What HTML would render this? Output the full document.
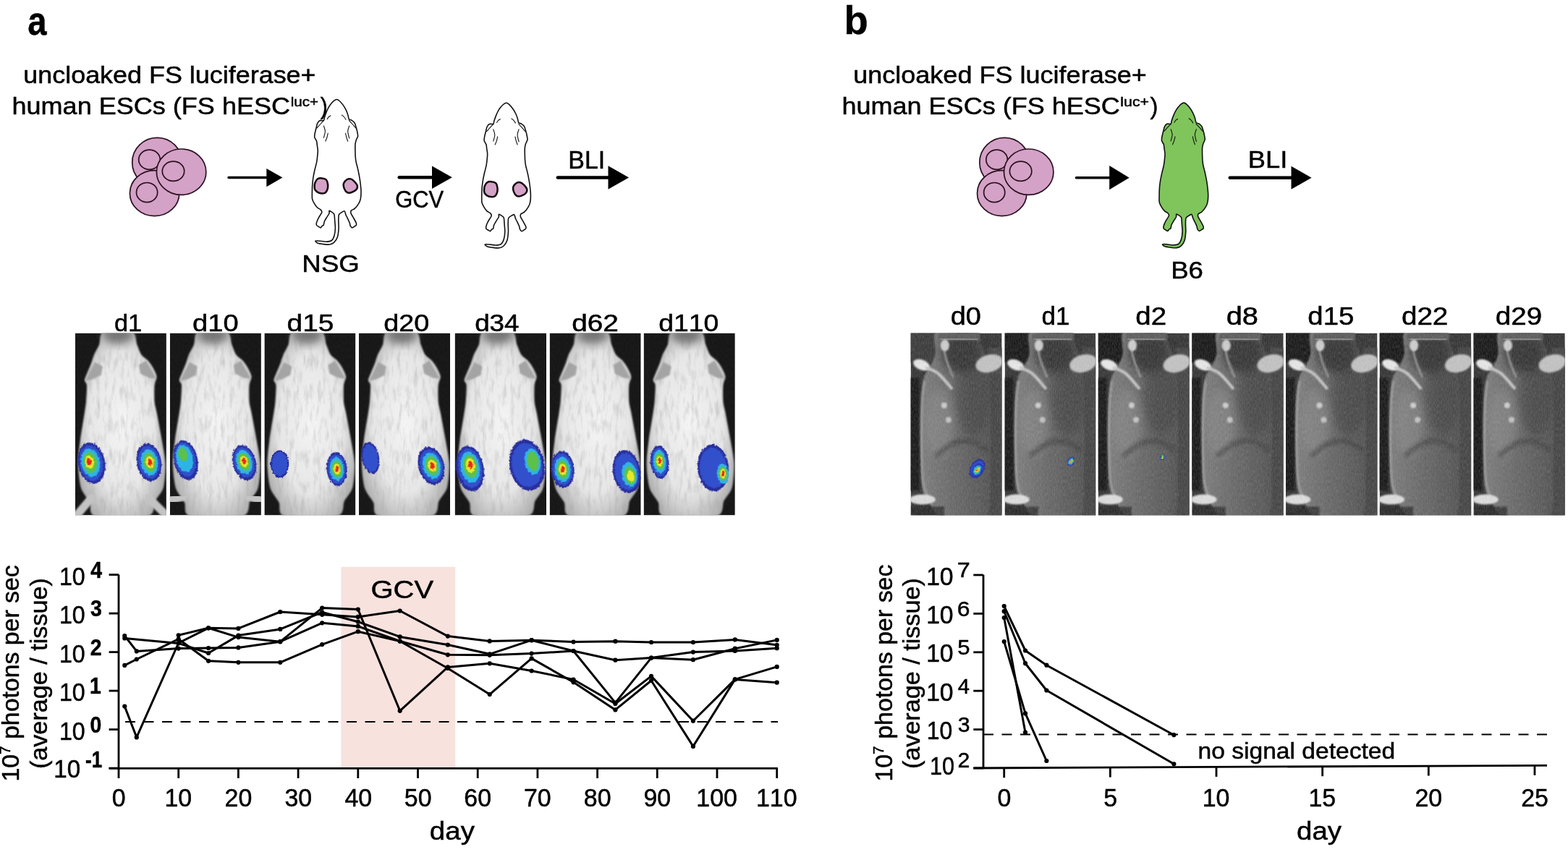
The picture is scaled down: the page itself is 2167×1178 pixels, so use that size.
<!DOCTYPE html>
<html><head><meta charset="utf-8"><title>Figure</title>
<style>
html,body{margin:0;padding:0;background:#fff;}
svg{display:block;}
text{font-family:'Liberation Sans', Arial, sans-serif;font-kerning:none;stroke:#000;stroke-width:0.5px;}
</style></head>
<body>
<svg width="2167" height="1178" viewBox="0 0 2167 1178">
<defs><radialGradient id="gA" cx="0.5" cy="0.5" r="0.62"><stop offset="0" stop-color="#f6f6f6"/><stop offset="0.6" stop-color="#e8e8e8"/><stop offset="1" stop-color="#a4a4a4"/></radialGradient><linearGradient id="gB" x1="0" y1="0" x2="1" y2="0"><stop offset="0" stop-color="#7a7a7a"/><stop offset="0.45" stop-color="#646464"/><stop offset="1" stop-color="#4c4c4c"/></linearGradient><filter id="soft" x="-10%" y="-10%" width="120%" height="120%"><feGaussianBlur stdDeviation="1.2"/></filter><filter id="blur2" x="-30%" y="-30%" width="160%" height="160%"><feGaussianBlur stdDeviation="2.5"/></filter><filter id="blur4" x="-30%" y="-30%" width="160%" height="160%"><feGaussianBlur stdDeviation="6"/></filter><filter id="fur"><feTurbulence type="fractalNoise" baseFrequency="0.7 0.22" numOctaves="2" seed="3"/><feColorMatrix type="saturate" values="0"/></filter><filter id="streak" x="0" y="0" width="100%" height="100%"><feTurbulence type="fractalNoise" baseFrequency="0.18 0.045" numOctaves="3" seed="11"/><feColorMatrix type="matrix" values="0 0 0 0 0.35  0 0 0 0 0.35  0 0 0 0 0.35  1.6 0 0 0 -0.75"/></filter><filter id="rag" x="-20%" y="-20%" width="140%" height="140%"><feTurbulence type="fractalNoise" baseFrequency="0.35" numOctaves="2" seed="7" result="n"/><feDisplacementMap in="SourceGraphic" in2="n" scale="4" xChannelSelector="R" yChannelSelector="G"/></filter></defs>
<rect width="2167" height="1178" fill="#fff"/>
<clipPath id="pa0"><rect x="103.90" y="460.6" width="126.00" height="251.80"/></clipPath><g clip-path="url(#pa0)"><rect x="103.90" y="460.6" width="126.00" height="251.80" fill="#141414"/><path d="M143.12,458.60 C149.15,456.20 176.17,456.20 182.34,458.60 C188.50,461.00 187.63,472.33 189.37,476.60 C191.12,480.87 193.40,487.67 195.41,490.60 C197.42,493.53 202.31,496.20 204.46,498.60 C206.60,501.00 209.89,505.67 211.50,508.60 C213.11,511.53 216.26,517.40 216.53,520.60 C216.79,523.80 213.91,527.93 213.51,532.60 C213.11,537.27 213.11,550.53 213.51,555.60 C213.91,560.67 215.18,563.53 216.53,570.60 C217.87,577.67 221.96,599.13 223.56,608.60 C225.17,618.07 228.32,632.80 228.59,641.60 C228.86,650.40 227.45,667.80 225.58,674.60 C223.70,681.40 217.33,687.40 214.51,692.60 C211.70,697.80 215.45,710.80 204.46,713.60 C193.46,716.40 142.78,716.13 132.06,713.60 C121.33,711.07 126.69,699.80 124.01,694.60 C121.33,689.40 114.09,681.67 111.94,674.60 C109.80,667.53 108.06,650.40 107.92,641.60 C107.79,632.80 109.73,618.07 110.94,608.60 C112.15,599.13 115.90,577.67 116.97,570.60 C118.05,563.53 118.58,560.67 118.98,555.60 C119.39,550.53 120.26,536.60 119.99,532.60 C119.72,528.60 116.84,528.00 116.97,525.60 C117.11,523.20 119.79,517.67 120.99,514.60 C122.20,511.53 124.82,505.80 126.02,502.60 C127.23,499.40 128.57,494.07 130.05,490.60 C131.52,487.13 135.34,480.87 137.08,476.60 C138.83,472.33 137.08,461.00 143.12,458.60Z" fill="url(#gA)" filter="url(#soft)"/><clipPath id="pa0b"><path d="M143.12,458.60 C149.15,456.20 176.17,456.20 182.34,458.60 C188.50,461.00 187.63,472.33 189.37,476.60 C191.12,480.87 193.40,487.67 195.41,490.60 C197.42,493.53 202.31,496.20 204.46,498.60 C206.60,501.00 209.89,505.67 211.50,508.60 C213.11,511.53 216.26,517.40 216.53,520.60 C216.79,523.80 213.91,527.93 213.51,532.60 C213.11,537.27 213.11,550.53 213.51,555.60 C213.91,560.67 215.18,563.53 216.53,570.60 C217.87,577.67 221.96,599.13 223.56,608.60 C225.17,618.07 228.32,632.80 228.59,641.60 C228.86,650.40 227.45,667.80 225.58,674.60 C223.70,681.40 217.33,687.40 214.51,692.60 C211.70,697.80 215.45,710.80 204.46,713.60 C193.46,716.40 142.78,716.13 132.06,713.60 C121.33,711.07 126.69,699.80 124.01,694.60 C121.33,689.40 114.09,681.67 111.94,674.60 C109.80,667.53 108.06,650.40 107.92,641.60 C107.79,632.80 109.73,618.07 110.94,608.60 C112.15,599.13 115.90,577.67 116.97,570.60 C118.05,563.53 118.58,560.67 118.98,555.60 C119.39,550.53 120.26,536.60 119.99,532.60 C119.72,528.60 116.84,528.00 116.97,525.60 C117.11,523.20 119.79,517.67 120.99,514.60 C122.20,511.53 124.82,505.80 126.02,502.60 C127.23,499.40 128.57,494.07 130.05,490.60 C131.52,487.13 135.34,480.87 137.08,476.60 C138.83,472.33 137.08,461.00 143.12,458.60Z"/></clipPath><rect x="103.90" y="460.6" width="126.00" height="251.80" filter="url(#streak)" opacity="0.55" clip-path="url(#pa0b)"/><ellipse cx="163.23" cy="462.6" rx="21.12" ry="13" fill="#6a6a6a" opacity="0.9" filter="url(#blur4)"/><path d="M130.90,500.6 L117.90,526.6 L127.90,524.6 L139.90,518.6 L141.90,506.6Z" fill="#a4a4a4" filter="url(#soft)"/><path d="M201.90,498.6 L215.90,523.6 L205.90,522.6 L193.90,516.6 L191.90,504.6Z" fill="#a4a4a4" filter="url(#soft)"/><line x1="127.90" y1="686.60" x2="105.90" y2="712.60" stroke="#c4c4c4" stroke-width="11" stroke-linecap="round" filter="url(#soft)"/><line x1="203.90" y1="686.60" x2="227.90" y2="710.60" stroke="#c4c4c4" stroke-width="11" stroke-linecap="round" filter="url(#soft)"/><rect x="103.90" y="460.6" width="126.00" height="251.80" filter="url(#fur)" opacity="0.06"/><g transform="translate(126.50,640.30) rotate(-10)" filter="url(#rag)"><ellipse cx="-0.00" cy="-0.00" rx="18.70" ry="28.70" fill="#2b2f9c"/><ellipse cx="-0.52" cy="-0.40" rx="16.08" ry="24.68" fill="#3050cc"/><ellipse cx="-1.20" cy="-0.92" rx="12.72" ry="19.52" fill="#2fb4e4"/><ellipse cx="-1.87" cy="-1.44" rx="9.35" ry="14.35" fill="#5cc04a"/><ellipse cx="-2.54" cy="-1.95" rx="5.98" ry="9.18" fill="#e8e62a"/><ellipse cx="-3.10" cy="-2.38" rx="3.18" ry="4.88" fill="#e8281e"/></g><g transform="translate(205.90,639.20) rotate(-10)" filter="url(#rag)"><ellipse cx="0.00" cy="0.00" rx="17.00" ry="26.50" fill="#2b2f9c"/><ellipse cx="0.24" cy="0.00" rx="14.62" ry="22.79" fill="#3050cc"/><ellipse cx="0.54" cy="0.00" rx="11.56" ry="18.02" fill="#2fb4e4"/><ellipse cx="0.85" cy="0.00" rx="8.50" ry="13.25" fill="#5cc04a"/><ellipse cx="1.16" cy="0.00" rx="5.44" ry="8.48" fill="#e8e62a"/><ellipse cx="1.41" cy="0.00" rx="2.89" ry="4.50" fill="#e8281e"/></g></g>
<clipPath id="pa1"><rect x="234.80" y="460.6" width="126.10" height="251.80"/></clipPath><g clip-path="url(#pa1)"><rect x="234.80" y="460.6" width="126.10" height="251.80" fill="#141414"/><path d="M274.05,458.60 C280.09,456.20 307.13,456.20 313.30,458.60 C319.47,461.00 318.60,472.33 320.34,476.60 C322.09,480.87 324.37,487.67 326.38,490.60 C328.39,493.53 333.29,496.20 335.44,498.60 C337.59,501.00 340.87,505.67 342.48,508.60 C344.09,511.53 347.25,517.40 347.52,520.60 C347.78,523.80 344.90,527.93 344.50,532.60 C344.09,537.27 344.09,550.53 344.50,555.60 C344.90,560.67 346.17,563.53 347.52,570.60 C348.86,577.67 352.95,599.13 354.56,608.60 C356.17,618.07 359.32,632.80 359.59,641.60 C359.86,650.40 358.45,667.80 356.57,674.60 C354.69,681.40 348.32,687.40 345.50,692.60 C342.68,697.80 346.44,710.80 335.44,713.60 C324.44,716.40 273.71,716.13 262.98,713.60 C252.24,711.07 257.61,699.80 254.93,694.60 C252.24,689.40 245.00,681.67 242.85,674.60 C240.70,667.53 238.96,650.40 238.83,641.60 C238.69,632.80 240.64,618.07 241.84,608.60 C243.05,599.13 246.81,577.67 247.88,570.60 C248.96,563.53 249.49,560.67 249.90,555.60 C250.30,550.53 251.17,536.60 250.90,532.60 C250.63,528.60 247.75,528.00 247.88,525.60 C248.02,523.20 250.70,517.67 251.91,514.60 C253.12,511.53 255.73,505.80 256.94,502.60 C258.15,499.40 259.49,494.07 260.97,490.60 C262.44,487.13 266.27,480.87 268.01,476.60 C269.76,472.33 268.01,461.00 274.05,458.60Z" fill="url(#gA)" filter="url(#soft)"/><clipPath id="pa1b"><path d="M274.05,458.60 C280.09,456.20 307.13,456.20 313.30,458.60 C319.47,461.00 318.60,472.33 320.34,476.60 C322.09,480.87 324.37,487.67 326.38,490.60 C328.39,493.53 333.29,496.20 335.44,498.60 C337.59,501.00 340.87,505.67 342.48,508.60 C344.09,511.53 347.25,517.40 347.52,520.60 C347.78,523.80 344.90,527.93 344.50,532.60 C344.09,537.27 344.09,550.53 344.50,555.60 C344.90,560.67 346.17,563.53 347.52,570.60 C348.86,577.67 352.95,599.13 354.56,608.60 C356.17,618.07 359.32,632.80 359.59,641.60 C359.86,650.40 358.45,667.80 356.57,674.60 C354.69,681.40 348.32,687.40 345.50,692.60 C342.68,697.80 346.44,710.80 335.44,713.60 C324.44,716.40 273.71,716.13 262.98,713.60 C252.24,711.07 257.61,699.80 254.93,694.60 C252.24,689.40 245.00,681.67 242.85,674.60 C240.70,667.53 238.96,650.40 238.83,641.60 C238.69,632.80 240.64,618.07 241.84,608.60 C243.05,599.13 246.81,577.67 247.88,570.60 C248.96,563.53 249.49,560.67 249.90,555.60 C250.30,550.53 251.17,536.60 250.90,532.60 C250.63,528.60 247.75,528.00 247.88,525.60 C248.02,523.20 250.70,517.67 251.91,514.60 C253.12,511.53 255.73,505.80 256.94,502.60 C258.15,499.40 259.49,494.07 260.97,490.60 C262.44,487.13 266.27,480.87 268.01,476.60 C269.76,472.33 268.01,461.00 274.05,458.60Z"/></clipPath><rect x="234.80" y="460.6" width="126.10" height="251.80" filter="url(#streak)" opacity="0.55" clip-path="url(#pa1b)"/><ellipse cx="294.18" cy="462.6" rx="21.13" ry="13" fill="#6a6a6a" opacity="0.9" filter="url(#blur4)"/><path d="M261.80,500.6 L248.80,526.6 L258.80,524.6 L270.80,518.6 L272.80,506.6Z" fill="#a4a4a4" filter="url(#soft)"/><path d="M332.80,498.6 L346.80,523.6 L336.80,522.6 L324.80,516.6 L322.80,504.6Z" fill="#a4a4a4" filter="url(#soft)"/><line x1="254.80" y1="686.60" x2="230.80" y2="692.60" stroke="#c4c4c4" stroke-width="11" stroke-linecap="round" filter="url(#soft)"/><line x1="342.80" y1="686.60" x2="364.80" y2="692.60" stroke="#c4c4c4" stroke-width="11" stroke-linecap="round" filter="url(#soft)"/><rect x="234.80" y="460.6" width="126.10" height="251.80" filter="url(#fur)" opacity="0.06"/><g transform="translate(256.70,636.40) rotate(-12)" filter="url(#rag)"><ellipse cx="-0.00" cy="-0.00" rx="16.50" ry="28.00" fill="#2b2f9c"/><ellipse cx="-0.46" cy="-1.18" rx="14.19" ry="24.08" fill="#3050cc"/><ellipse cx="-1.06" cy="-2.69" rx="11.22" ry="19.04" fill="#2fb4e4"/></g><g transform="translate(252.70,628.40) rotate(-12)" filter="url(#rag)"><ellipse cx="0.00" cy="0.00" rx="6.00" ry="10.00" fill="#5cc04a"/></g><g transform="translate(337.60,639.60) rotate(-15)" filter="url(#rag)"><ellipse cx="0.00" cy="-0.00" rx="16.00" ry="24.80" fill="#2b2f9c"/><ellipse cx="0.00" cy="-0.35" rx="13.76" ry="21.33" fill="#3050cc"/><ellipse cx="0.00" cy="-0.79" rx="10.88" ry="16.86" fill="#2fb4e4"/><ellipse cx="0.00" cy="-1.24" rx="8.00" ry="12.40" fill="#5cc04a"/><ellipse cx="0.00" cy="-1.69" rx="5.12" ry="7.94" fill="#e8e62a"/><ellipse cx="0.00" cy="-2.06" rx="2.72" ry="4.22" fill="#e8281e"/></g></g>
<clipPath id="pa2"><rect x="365.40" y="460.6" width="126.00" height="251.80"/></clipPath><g clip-path="url(#pa2)"><rect x="365.40" y="460.6" width="126.00" height="251.80" fill="#141414"/><path d="M404.62,458.60 C410.65,456.20 437.67,456.20 443.84,458.60 C450.00,461.00 449.13,472.33 450.87,476.60 C452.62,480.87 454.90,487.67 456.91,490.60 C458.92,493.53 463.81,496.20 465.96,498.60 C468.10,501.00 471.39,505.67 473.00,508.60 C474.61,511.53 477.76,517.40 478.03,520.60 C478.29,523.80 475.41,527.93 475.01,532.60 C474.61,537.27 474.61,550.53 475.01,555.60 C475.41,560.67 476.68,563.53 478.03,570.60 C479.37,577.67 483.46,599.13 485.06,608.60 C486.67,618.07 489.82,632.80 490.09,641.60 C490.36,650.40 488.95,667.80 487.08,674.60 C485.20,681.40 478.83,687.40 476.01,692.60 C473.20,697.80 476.95,710.80 465.96,713.60 C454.96,716.40 404.28,716.13 393.56,713.60 C382.83,711.07 388.19,699.80 385.51,694.60 C382.83,689.40 375.59,681.67 373.44,674.60 C371.30,667.53 369.56,650.40 369.42,641.60 C369.29,632.80 371.23,618.07 372.44,608.60 C373.65,599.13 377.40,577.67 378.47,570.60 C379.55,563.53 380.08,560.67 380.48,555.60 C380.89,550.53 381.76,536.60 381.49,532.60 C381.22,528.60 378.34,528.00 378.47,525.60 C378.61,523.20 381.29,517.67 382.49,514.60 C383.70,511.53 386.32,505.80 387.52,502.60 C388.73,499.40 390.07,494.07 391.55,490.60 C393.02,487.13 396.84,480.87 398.58,476.60 C400.33,472.33 398.58,461.00 404.62,458.60Z" fill="url(#gA)" filter="url(#soft)"/><clipPath id="pa2b"><path d="M404.62,458.60 C410.65,456.20 437.67,456.20 443.84,458.60 C450.00,461.00 449.13,472.33 450.87,476.60 C452.62,480.87 454.90,487.67 456.91,490.60 C458.92,493.53 463.81,496.20 465.96,498.60 C468.10,501.00 471.39,505.67 473.00,508.60 C474.61,511.53 477.76,517.40 478.03,520.60 C478.29,523.80 475.41,527.93 475.01,532.60 C474.61,537.27 474.61,550.53 475.01,555.60 C475.41,560.67 476.68,563.53 478.03,570.60 C479.37,577.67 483.46,599.13 485.06,608.60 C486.67,618.07 489.82,632.80 490.09,641.60 C490.36,650.40 488.95,667.80 487.08,674.60 C485.20,681.40 478.83,687.40 476.01,692.60 C473.20,697.80 476.95,710.80 465.96,713.60 C454.96,716.40 404.28,716.13 393.56,713.60 C382.83,711.07 388.19,699.80 385.51,694.60 C382.83,689.40 375.59,681.67 373.44,674.60 C371.30,667.53 369.56,650.40 369.42,641.60 C369.29,632.80 371.23,618.07 372.44,608.60 C373.65,599.13 377.40,577.67 378.47,570.60 C379.55,563.53 380.08,560.67 380.48,555.60 C380.89,550.53 381.76,536.60 381.49,532.60 C381.22,528.60 378.34,528.00 378.47,525.60 C378.61,523.20 381.29,517.67 382.49,514.60 C383.70,511.53 386.32,505.80 387.52,502.60 C388.73,499.40 390.07,494.07 391.55,490.60 C393.02,487.13 396.84,480.87 398.58,476.60 C400.33,472.33 398.58,461.00 404.62,458.60Z"/></clipPath><rect x="365.40" y="460.6" width="126.00" height="251.80" filter="url(#streak)" opacity="0.55" clip-path="url(#pa2b)"/><ellipse cx="424.73" cy="462.6" rx="21.12" ry="13" fill="#6a6a6a" opacity="0.9" filter="url(#blur4)"/><path d="M392.40,500.6 L379.40,526.6 L389.40,524.6 L401.40,518.6 L403.40,506.6Z" fill="#a4a4a4" filter="url(#soft)"/><path d="M463.40,498.6 L477.40,523.6 L467.40,522.6 L455.40,516.6 L453.40,504.6Z" fill="#a4a4a4" filter="url(#soft)"/><rect x="365.40" y="460.6" width="126.00" height="251.80" filter="url(#fur)" opacity="0.06"/><g transform="translate(386.60,641.50) rotate(0)" filter="url(#rag)"><ellipse cx="0.00" cy="0.00" rx="12.70" ry="19.10" fill="#2b2f9c"/><ellipse cx="0.00" cy="0.00" rx="10.92" ry="16.43" fill="#3050cc"/></g><g transform="translate(465.50,648.50) rotate(-5)" filter="url(#rag)"><ellipse cx="0.00" cy="0.00" rx="14.00" ry="23.50" fill="#2b2f9c"/><ellipse cx="0.00" cy="0.00" rx="12.04" ry="20.21" fill="#3050cc"/><ellipse cx="0.00" cy="0.00" rx="9.52" ry="15.98" fill="#2fb4e4"/><ellipse cx="0.00" cy="0.00" rx="7.00" ry="11.75" fill="#5cc04a"/><ellipse cx="0.00" cy="0.00" rx="4.48" ry="7.52" fill="#e8e62a"/><ellipse cx="0.00" cy="0.00" rx="2.38" ry="4.00" fill="#e8281e"/></g></g>
<clipPath id="pa3"><rect x="495.90" y="460.6" width="126.20" height="251.80"/></clipPath><g clip-path="url(#pa3)"><rect x="495.90" y="460.6" width="126.20" height="251.80" fill="#141414"/><path d="M535.18,458.60 C541.22,456.20 568.28,456.20 574.46,458.60 C580.64,461.00 579.76,472.33 581.51,476.60 C583.26,480.87 585.54,487.67 587.55,490.60 C589.57,493.53 594.47,496.20 596.62,498.60 C598.77,501.00 602.06,505.67 603.67,508.60 C605.28,511.53 608.44,517.40 608.70,520.60 C608.97,523.80 606.09,527.93 605.68,532.60 C605.28,537.27 605.28,550.53 605.68,555.60 C606.09,560.67 607.36,563.53 608.70,570.60 C610.05,577.67 614.14,599.13 615.75,608.60 C617.37,618.07 620.52,632.80 620.79,641.60 C621.06,650.40 619.65,667.80 617.77,674.60 C615.89,681.40 609.51,687.40 606.69,692.60 C603.87,697.80 607.63,710.80 596.62,713.60 C585.61,716.40 534.84,716.13 524.10,713.60 C513.36,711.07 518.73,699.80 516.04,694.60 C513.36,689.40 506.11,681.67 503.96,674.60 C501.81,667.53 500.06,650.40 499.93,641.60 C499.79,632.80 501.74,618.07 502.95,608.60 C504.16,599.13 507.92,577.67 508.99,570.60 C510.07,563.53 510.60,560.67 511.01,555.60 C511.41,550.53 512.28,536.60 512.01,532.60 C511.75,528.60 508.86,528.00 508.99,525.60 C509.13,523.20 511.81,517.67 513.02,514.60 C514.23,511.53 516.85,505.80 518.06,502.60 C519.27,499.40 520.61,494.07 522.09,490.60 C523.56,487.13 527.39,480.87 529.14,476.60 C530.88,472.33 529.14,461.00 535.18,458.60Z" fill="url(#gA)" filter="url(#soft)"/><clipPath id="pa3b"><path d="M535.18,458.60 C541.22,456.20 568.28,456.20 574.46,458.60 C580.64,461.00 579.76,472.33 581.51,476.60 C583.26,480.87 585.54,487.67 587.55,490.60 C589.57,493.53 594.47,496.20 596.62,498.60 C598.77,501.00 602.06,505.67 603.67,508.60 C605.28,511.53 608.44,517.40 608.70,520.60 C608.97,523.80 606.09,527.93 605.68,532.60 C605.28,537.27 605.28,550.53 605.68,555.60 C606.09,560.67 607.36,563.53 608.70,570.60 C610.05,577.67 614.14,599.13 615.75,608.60 C617.37,618.07 620.52,632.80 620.79,641.60 C621.06,650.40 619.65,667.80 617.77,674.60 C615.89,681.40 609.51,687.40 606.69,692.60 C603.87,697.80 607.63,710.80 596.62,713.60 C585.61,716.40 534.84,716.13 524.10,713.60 C513.36,711.07 518.73,699.80 516.04,694.60 C513.36,689.40 506.11,681.67 503.96,674.60 C501.81,667.53 500.06,650.40 499.93,641.60 C499.79,632.80 501.74,618.07 502.95,608.60 C504.16,599.13 507.92,577.67 508.99,570.60 C510.07,563.53 510.60,560.67 511.01,555.60 C511.41,550.53 512.28,536.60 512.01,532.60 C511.75,528.60 508.86,528.00 508.99,525.60 C509.13,523.20 511.81,517.67 513.02,514.60 C514.23,511.53 516.85,505.80 518.06,502.60 C519.27,499.40 520.61,494.07 522.09,490.60 C523.56,487.13 527.39,480.87 529.14,476.60 C530.88,472.33 529.14,461.00 535.18,458.60Z"/></clipPath><rect x="495.90" y="460.6" width="126.20" height="251.80" filter="url(#streak)" opacity="0.55" clip-path="url(#pa3b)"/><ellipse cx="555.32" cy="462.6" rx="21.15" ry="13" fill="#6a6a6a" opacity="0.9" filter="url(#blur4)"/><path d="M522.90,500.6 L509.90,526.6 L519.90,524.6 L531.90,518.6 L533.90,506.6Z" fill="#a4a4a4" filter="url(#soft)"/><path d="M593.90,498.6 L607.90,523.6 L597.90,522.6 L585.90,516.6 L583.90,504.6Z" fill="#a4a4a4" filter="url(#soft)"/><rect x="495.90" y="460.6" width="126.20" height="251.80" filter="url(#fur)" opacity="0.06"/><g transform="translate(512.00,633.20) rotate(-10)" filter="url(#rag)"><ellipse cx="0.00" cy="0.00" rx="12.00" ry="22.30" fill="#2b2f9c"/><ellipse cx="0.00" cy="0.00" rx="10.32" ry="19.18" fill="#3050cc"/></g><g transform="translate(596.00,644.00) rotate(-15)" filter="url(#rag)"><ellipse cx="0.00" cy="0.00" rx="17.80" ry="26.70" fill="#2b2f9c"/><ellipse cx="0.25" cy="0.00" rx="15.31" ry="22.96" fill="#3050cc"/><ellipse cx="0.57" cy="0.00" rx="12.10" ry="18.16" fill="#2fb4e4"/><ellipse cx="0.89" cy="0.00" rx="8.90" ry="13.35" fill="#5cc04a"/><ellipse cx="1.21" cy="0.00" rx="5.70" ry="8.54" fill="#e8e62a"/><ellipse cx="1.48" cy="0.00" rx="3.03" ry="4.54" fill="#e8281e"/></g></g>
<clipPath id="pa4"><rect x="628.60" y="460.6" width="126.40" height="251.80"/></clipPath><g clip-path="url(#pa4)"><rect x="628.60" y="460.6" width="126.40" height="251.80" fill="#141414"/><path d="M667.94,458.60 C674.00,456.20 701.10,456.20 707.28,458.60 C713.47,461.00 712.60,472.33 714.35,476.60 C716.09,480.87 718.38,487.67 720.40,490.60 C722.42,493.53 727.33,496.20 729.48,498.60 C731.63,501.00 734.93,505.67 736.54,508.60 C738.15,511.53 741.31,517.40 741.58,520.60 C741.85,523.80 738.96,527.93 738.56,532.60 C738.15,537.27 738.15,550.53 738.56,555.60 C738.96,560.67 740.24,563.53 741.58,570.60 C742.93,577.67 747.03,599.13 748.64,608.60 C750.26,618.07 753.42,632.80 753.69,641.60 C753.96,650.40 752.55,667.80 750.66,674.60 C748.78,681.40 742.39,687.40 739.57,692.60 C736.74,697.80 740.51,710.80 729.48,713.60 C718.45,716.40 667.61,716.13 656.85,713.60 C646.09,711.07 651.47,699.80 648.78,694.60 C646.09,689.40 638.82,681.67 636.67,674.60 C634.52,667.53 632.77,650.40 632.64,641.60 C632.50,632.80 634.45,618.07 635.66,608.60 C636.87,599.13 640.64,577.67 641.71,570.60 C642.79,563.53 643.33,560.67 643.73,555.60 C644.14,550.53 645.01,536.60 644.74,532.60 C644.47,528.60 641.58,528.00 641.71,525.60 C641.85,523.20 644.54,517.67 645.75,514.60 C646.96,511.53 649.58,505.80 650.79,502.60 C652.00,499.40 653.35,494.07 654.83,490.60 C656.31,487.13 660.14,480.87 661.89,476.60 C663.64,472.33 661.89,461.00 667.94,458.60Z" fill="url(#gA)" filter="url(#soft)"/><clipPath id="pa4b"><path d="M667.94,458.60 C674.00,456.20 701.10,456.20 707.28,458.60 C713.47,461.00 712.60,472.33 714.35,476.60 C716.09,480.87 718.38,487.67 720.40,490.60 C722.42,493.53 727.33,496.20 729.48,498.60 C731.63,501.00 734.93,505.67 736.54,508.60 C738.15,511.53 741.31,517.40 741.58,520.60 C741.85,523.80 738.96,527.93 738.56,532.60 C738.15,537.27 738.15,550.53 738.56,555.60 C738.96,560.67 740.24,563.53 741.58,570.60 C742.93,577.67 747.03,599.13 748.64,608.60 C750.26,618.07 753.42,632.80 753.69,641.60 C753.96,650.40 752.55,667.80 750.66,674.60 C748.78,681.40 742.39,687.40 739.57,692.60 C736.74,697.80 740.51,710.80 729.48,713.60 C718.45,716.40 667.61,716.13 656.85,713.60 C646.09,711.07 651.47,699.80 648.78,694.60 C646.09,689.40 638.82,681.67 636.67,674.60 C634.52,667.53 632.77,650.40 632.64,641.60 C632.50,632.80 634.45,618.07 635.66,608.60 C636.87,599.13 640.64,577.67 641.71,570.60 C642.79,563.53 643.33,560.67 643.73,555.60 C644.14,550.53 645.01,536.60 644.74,532.60 C644.47,528.60 641.58,528.00 641.71,525.60 C641.85,523.20 644.54,517.67 645.75,514.60 C646.96,511.53 649.58,505.80 650.79,502.60 C652.00,499.40 653.35,494.07 654.83,490.60 C656.31,487.13 660.14,480.87 661.89,476.60 C663.64,472.33 661.89,461.00 667.94,458.60Z"/></clipPath><rect x="628.60" y="460.6" width="126.40" height="251.80" filter="url(#streak)" opacity="0.55" clip-path="url(#pa4b)"/><ellipse cx="688.12" cy="462.6" rx="21.18" ry="13" fill="#6a6a6a" opacity="0.9" filter="url(#blur4)"/><path d="M655.60,500.6 L642.60,526.6 L652.60,524.6 L664.60,518.6 L666.60,506.6Z" fill="#a4a4a4" filter="url(#soft)"/><path d="M726.60,498.6 L740.60,523.6 L730.60,522.6 L718.60,516.6 L716.60,504.6Z" fill="#a4a4a4" filter="url(#soft)"/><rect x="628.60" y="460.6" width="126.40" height="251.80" filter="url(#fur)" opacity="0.06"/><g transform="translate(649.50,648.00) rotate(-10)" filter="url(#rag)"><ellipse cx="0.00" cy="-0.00" rx="19.00" ry="31.80" fill="#2b2f9c"/><ellipse cx="0.27" cy="-0.89" rx="16.34" ry="27.35" fill="#3050cc"/><ellipse cx="0.61" cy="-2.04" rx="12.92" ry="21.62" fill="#2fb4e4"/><ellipse cx="0.95" cy="-3.18" rx="9.50" ry="15.90" fill="#5cc04a"/><ellipse cx="1.29" cy="-4.32" rx="6.08" ry="10.18" fill="#e8e62a"/><ellipse cx="1.58" cy="-5.28" rx="3.23" ry="5.41" fill="#e8281e"/></g><g transform="translate(728.40,643.00) rotate(-10)" filter="url(#rag)"><ellipse cx="0.00" cy="0.00" rx="24.20" ry="35.70" fill="#2b2f9c"/><ellipse cx="0.00" cy="0.00" rx="20.81" ry="30.70" fill="#3050cc"/></g><g transform="translate(736.00,638.00) rotate(-10)" filter="url(#rag)"><ellipse cx="0.00" cy="-0.00" rx="11.00" ry="18.00" fill="#2fb4e4"/><ellipse cx="0.44" cy="-0.48" rx="8.09" ry="13.24" fill="#5cc04a"/></g></g>
<clipPath id="pa5"><rect x="759.60" y="460.6" width="126.10" height="251.80"/></clipPath><g clip-path="url(#pa5)"><rect x="759.60" y="460.6" width="126.10" height="251.80" fill="#141414"/><path d="M798.85,458.60 C804.89,456.20 831.93,456.20 838.10,458.60 C844.27,461.00 843.40,472.33 845.14,476.60 C846.89,480.87 849.17,487.67 851.18,490.60 C853.19,493.53 858.09,496.20 860.24,498.60 C862.39,501.00 865.67,505.67 867.28,508.60 C868.89,511.53 872.05,517.40 872.32,520.60 C872.58,523.80 869.70,527.93 869.30,532.60 C868.89,537.27 868.89,550.53 869.30,555.60 C869.70,560.67 870.97,563.53 872.32,570.60 C873.66,577.67 877.75,599.13 879.36,608.60 C880.97,618.07 884.12,632.80 884.39,641.60 C884.66,650.40 883.25,667.80 881.37,674.60 C879.49,681.40 873.12,687.40 870.30,692.60 C867.48,697.80 871.24,710.80 860.24,713.60 C849.24,716.40 798.51,716.13 787.78,713.60 C777.04,711.07 782.41,699.80 779.73,694.60 C777.04,689.40 769.80,681.67 767.65,674.60 C765.50,667.53 763.76,650.40 763.63,641.60 C763.49,632.80 765.44,618.07 766.64,608.60 C767.85,599.13 771.61,577.67 772.68,570.60 C773.76,563.53 774.29,560.67 774.70,555.60 C775.10,550.53 775.97,536.60 775.70,532.60 C775.43,528.60 772.55,528.00 772.68,525.60 C772.82,523.20 775.50,517.67 776.71,514.60 C777.92,511.53 780.53,505.80 781.74,502.60 C782.95,499.40 784.29,494.07 785.77,490.60 C787.24,487.13 791.07,480.87 792.81,476.60 C794.56,472.33 792.81,461.00 798.85,458.60Z" fill="url(#gA)" filter="url(#soft)"/><clipPath id="pa5b"><path d="M798.85,458.60 C804.89,456.20 831.93,456.20 838.10,458.60 C844.27,461.00 843.40,472.33 845.14,476.60 C846.89,480.87 849.17,487.67 851.18,490.60 C853.19,493.53 858.09,496.20 860.24,498.60 C862.39,501.00 865.67,505.67 867.28,508.60 C868.89,511.53 872.05,517.40 872.32,520.60 C872.58,523.80 869.70,527.93 869.30,532.60 C868.89,537.27 868.89,550.53 869.30,555.60 C869.70,560.67 870.97,563.53 872.32,570.60 C873.66,577.67 877.75,599.13 879.36,608.60 C880.97,618.07 884.12,632.80 884.39,641.60 C884.66,650.40 883.25,667.80 881.37,674.60 C879.49,681.40 873.12,687.40 870.30,692.60 C867.48,697.80 871.24,710.80 860.24,713.60 C849.24,716.40 798.51,716.13 787.78,713.60 C777.04,711.07 782.41,699.80 779.73,694.60 C777.04,689.40 769.80,681.67 767.65,674.60 C765.50,667.53 763.76,650.40 763.63,641.60 C763.49,632.80 765.44,618.07 766.64,608.60 C767.85,599.13 771.61,577.67 772.68,570.60 C773.76,563.53 774.29,560.67 774.70,555.60 C775.10,550.53 775.97,536.60 775.70,532.60 C775.43,528.60 772.55,528.00 772.68,525.60 C772.82,523.20 775.50,517.67 776.71,514.60 C777.92,511.53 780.53,505.80 781.74,502.60 C782.95,499.40 784.29,494.07 785.77,490.60 C787.24,487.13 791.07,480.87 792.81,476.60 C794.56,472.33 792.81,461.00 798.85,458.60Z"/></clipPath><rect x="759.60" y="460.6" width="126.10" height="251.80" filter="url(#streak)" opacity="0.55" clip-path="url(#pa5b)"/><ellipse cx="818.98" cy="462.6" rx="21.13" ry="13" fill="#6a6a6a" opacity="0.9" filter="url(#blur4)"/><path d="M786.60,500.6 L773.60,526.6 L783.60,524.6 L795.60,518.6 L797.60,506.6Z" fill="#a4a4a4" filter="url(#soft)"/><path d="M857.60,498.6 L871.60,523.6 L861.60,522.6 L849.60,516.6 L847.60,504.6Z" fill="#a4a4a4" filter="url(#soft)"/><rect x="759.60" y="460.6" width="126.10" height="251.80" filter="url(#fur)" opacity="0.06"/><g transform="translate(777.50,649.00) rotate(-5)" filter="url(#rag)"><ellipse cx="0.00" cy="0.00" rx="16.00" ry="25.50" fill="#2b2f9c"/><ellipse cx="0.00" cy="0.00" rx="13.76" ry="21.93" fill="#3050cc"/><ellipse cx="0.00" cy="0.00" rx="10.88" ry="17.34" fill="#2fb4e4"/><ellipse cx="0.00" cy="0.00" rx="8.00" ry="12.75" fill="#5cc04a"/><ellipse cx="0.00" cy="0.00" rx="5.12" ry="8.16" fill="#e8e62a"/><ellipse cx="0.00" cy="0.00" rx="2.72" ry="4.33" fill="#e8281e"/></g><g transform="translate(866.00,652.00) rotate(-10)" filter="url(#rag)"><ellipse cx="0.00" cy="0.00" rx="19.00" ry="30.00" fill="#2b2f9c"/><ellipse cx="0.00" cy="0.00" rx="16.34" ry="25.80" fill="#3050cc"/></g><g transform="translate(870.00,656.00) rotate(-10)" filter="url(#rag)"><ellipse cx="0.00" cy="0.00" rx="10.50" ry="17.00" fill="#2fb4e4"/><ellipse cx="0.56" cy="1.35" rx="7.72" ry="12.50" fill="#5cc04a"/><ellipse cx="1.11" cy="2.70" rx="4.94" ry="8.00" fill="#e8e62a"/></g></g>
<clipPath id="pa6"><rect x="889.60" y="460.6" width="126.20" height="251.80"/></clipPath><g clip-path="url(#pa6)"><rect x="889.60" y="460.6" width="126.20" height="251.80" fill="#141414"/><path d="M928.88,458.60 C934.92,456.20 961.98,456.20 968.16,458.60 C974.34,461.00 973.46,472.33 975.21,476.60 C976.96,480.87 979.24,487.67 981.25,490.60 C983.27,493.53 988.17,496.20 990.32,498.60 C992.47,501.00 995.76,505.67 997.37,508.60 C998.98,511.53 1002.14,517.40 1002.40,520.60 C1002.67,523.80 999.79,527.93 999.38,532.60 C998.98,537.27 998.98,550.53 999.38,555.60 C999.79,560.67 1001.06,563.53 1002.40,570.60 C1003.75,577.67 1007.84,599.13 1009.45,608.60 C1011.07,618.07 1014.22,632.80 1014.49,641.60 C1014.76,650.40 1013.35,667.80 1011.47,674.60 C1009.59,681.40 1003.21,687.40 1000.39,692.60 C997.57,697.80 1001.33,710.80 990.32,713.60 C979.31,716.40 928.54,716.13 917.80,713.60 C907.06,711.07 912.43,699.80 909.74,694.60 C907.06,689.40 899.81,681.67 897.66,674.60 C895.51,667.53 893.76,650.40 893.63,641.60 C893.49,632.80 895.44,618.07 896.65,608.60 C897.86,599.13 901.62,577.67 902.69,570.60 C903.77,563.53 904.30,560.67 904.71,555.60 C905.11,550.53 905.98,536.60 905.71,532.60 C905.45,528.60 902.56,528.00 902.69,525.60 C902.83,523.20 905.51,517.67 906.72,514.60 C907.93,511.53 910.55,505.80 911.76,502.60 C912.97,499.40 914.31,494.07 915.79,490.60 C917.26,487.13 921.09,480.87 922.84,476.60 C924.58,472.33 922.84,461.00 928.88,458.60Z" fill="url(#gA)" filter="url(#soft)"/><clipPath id="pa6b"><path d="M928.88,458.60 C934.92,456.20 961.98,456.20 968.16,458.60 C974.34,461.00 973.46,472.33 975.21,476.60 C976.96,480.87 979.24,487.67 981.25,490.60 C983.27,493.53 988.17,496.20 990.32,498.60 C992.47,501.00 995.76,505.67 997.37,508.60 C998.98,511.53 1002.14,517.40 1002.40,520.60 C1002.67,523.80 999.79,527.93 999.38,532.60 C998.98,537.27 998.98,550.53 999.38,555.60 C999.79,560.67 1001.06,563.53 1002.40,570.60 C1003.75,577.67 1007.84,599.13 1009.45,608.60 C1011.07,618.07 1014.22,632.80 1014.49,641.60 C1014.76,650.40 1013.35,667.80 1011.47,674.60 C1009.59,681.40 1003.21,687.40 1000.39,692.60 C997.57,697.80 1001.33,710.80 990.32,713.60 C979.31,716.40 928.54,716.13 917.80,713.60 C907.06,711.07 912.43,699.80 909.74,694.60 C907.06,689.40 899.81,681.67 897.66,674.60 C895.51,667.53 893.76,650.40 893.63,641.60 C893.49,632.80 895.44,618.07 896.65,608.60 C897.86,599.13 901.62,577.67 902.69,570.60 C903.77,563.53 904.30,560.67 904.71,555.60 C905.11,550.53 905.98,536.60 905.71,532.60 C905.45,528.60 902.56,528.00 902.69,525.60 C902.83,523.20 905.51,517.67 906.72,514.60 C907.93,511.53 910.55,505.80 911.76,502.60 C912.97,499.40 914.31,494.07 915.79,490.60 C917.26,487.13 921.09,480.87 922.84,476.60 C924.58,472.33 922.84,461.00 928.88,458.60Z"/></clipPath><rect x="889.60" y="460.6" width="126.20" height="251.80" filter="url(#streak)" opacity="0.55" clip-path="url(#pa6b)"/><ellipse cx="949.02" cy="462.6" rx="21.15" ry="13" fill="#6a6a6a" opacity="0.9" filter="url(#blur4)"/><path d="M916.60,500.6 L903.60,526.6 L913.60,524.6 L925.60,518.6 L927.60,506.6Z" fill="#a4a4a4" filter="url(#soft)"/><path d="M987.60,498.6 L1001.60,523.6 L991.60,522.6 L979.60,516.6 L977.60,504.6Z" fill="#a4a4a4" filter="url(#soft)"/><rect x="889.60" y="460.6" width="126.20" height="251.80" filter="url(#fur)" opacity="0.06"/><g transform="translate(911.70,639.00) rotate(-5)" filter="url(#rag)"><ellipse cx="0.00" cy="-0.00" rx="12.70" ry="23.00" fill="#2b2f9c"/><ellipse cx="0.00" cy="-0.32" rx="10.92" ry="19.78" fill="#3050cc"/><ellipse cx="0.00" cy="-0.74" rx="8.64" ry="15.64" fill="#2fb4e4"/><ellipse cx="0.00" cy="-1.15" rx="6.35" ry="11.50" fill="#5cc04a"/><ellipse cx="0.00" cy="-1.56" rx="4.06" ry="7.36" fill="#e8e62a"/><ellipse cx="0.00" cy="-1.91" rx="2.16" ry="3.91" fill="#e8281e"/></g><g transform="translate(985.60,647.00) rotate(-5)" filter="url(#rag)"><ellipse cx="0.00" cy="0.00" rx="21.60" ry="32.50" fill="#2b2f9c"/><ellipse cx="0.00" cy="0.00" rx="18.58" ry="27.95" fill="#3050cc"/></g><g transform="translate(999.00,655.00) rotate(-5)" filter="url(#rag)"><ellipse cx="0.00" cy="0.00" rx="8.00" ry="14.00" fill="#2fb4e4"/><ellipse cx="0.00" cy="0.00" rx="5.88" ry="10.29" fill="#5cc04a"/><ellipse cx="0.00" cy="0.00" rx="3.76" ry="6.59" fill="#e8e62a"/><ellipse cx="0.00" cy="0.00" rx="2.00" ry="3.50" fill="#e8281e"/></g></g>
<clipPath id="pb0"><rect x="1258.60" y="460.6" width="126.00" height="251.80"/></clipPath><g clip-path="url(#pb0)"><rect x="1258.60" y="460.6" width="126.00" height="251.80" fill="#2c2c2c"/><rect x="1365.19" y="480.6" width="126.00" height="251.80" fill="#3c3c3c" filter="url(#soft)"/><rect x="1253.57" y="455.6" width="40.22" height="46" fill="#333" filter="url(#soft)"/><rect x="1253.57" y="522.6" width="17.09" height="156" fill="#111" filter="url(#soft)"/><path d="M1294.80,456.60 C1302.31,452.33 1341.06,454.20 1349.10,456.60 C1357.15,459.00 1353.26,469.27 1355.14,474.60 C1357.01,479.93 1361.44,489.13 1363.18,496.60 C1364.92,504.07 1367.40,518.60 1368.21,530.60 C1369.01,542.60 1369.21,570.60 1369.21,586.60 C1369.21,602.60 1369.01,633.53 1368.21,650.60 C1367.40,667.67 1372.16,706.07 1363.18,714.60 C1354.20,723.13 1311.56,717.53 1300.83,714.60 C1290.11,711.67 1286.22,697.93 1282.73,692.60 C1279.25,687.27 1276.16,685.80 1274.69,674.60 C1273.21,663.40 1271.94,624.47 1271.67,608.60 C1271.40,592.73 1272.01,567.07 1272.68,555.60 C1273.35,544.13 1274.82,529.40 1276.70,522.60 C1278.58,515.80 1284.61,509.13 1286.76,504.60 C1288.90,500.07 1291.72,495.00 1292.79,488.60 C1293.86,482.20 1287.29,460.87 1294.80,456.60Z" fill="url(#gB)" filter="url(#soft)"/><ellipse cx="1328.99" cy="486.6" rx="28.16" ry="30" fill="#2a2a2a" opacity="0.9" filter="url(#blur4)"/><ellipse cx="1345.08" cy="548.6" rx="24.13" ry="55" fill="#2e2e2e" opacity="0.45" filter="url(#blur4)"/><ellipse cx="1298.82" cy="585.6" rx="20.11" ry="48" fill="#8c8c8c" opacity="0.5" filter="url(#blur4)"/><path d="M1292.79,630.60 C1297.15,627.60 1310.56,615.93 1318.94,612.60 C1327.32,609.27 1335.36,608.93 1343.07,610.60 C1350.78,612.27 1361.51,620.60 1365.19,622.60" fill="none" stroke="#363636" stroke-width="7" opacity="0.6" filter="url(#blur2)"/><rect x="1258.60" y="700.6" width="46.26" height="16" fill="#1e1e1e" opacity="0.7" filter="url(#soft)"/><path d="M1277.71,526.60 C1277.20,531.43 1275.36,541.93 1274.69,555.60 C1274.02,569.27 1273.52,590.27 1273.68,608.60 C1273.85,626.93 1273.85,651.60 1275.69,665.60 C1277.54,679.60 1283.24,688.10 1284.75,692.60" fill="none" stroke="#9a9a9a" stroke-width="2.5" filter="url(#soft)"/><rect x="1296.81" y="460.6" width="56.31" height="10" fill="#555" filter="url(#soft)"/><line x1="1298.82" y1="468.6" x2="1351.11" y2="469.6" stroke="#a8a8a8" stroke-width="2" filter="url(#soft)"/><ellipse cx="1273.68" cy="504.6" rx="12.07" ry="7" transform="rotate(22 1273.68 504.6)" fill="#ececec" filter="url(#soft)"/><path d="M1280.72,508.60 C1283.40,509.93 1291.11,511.93 1296.81,516.60 C1302.51,521.27 1311.90,533.27 1314.91,536.60" fill="none" stroke="#c8c8c8" stroke-width="4" stroke-linecap="round" filter="url(#soft)"/><path d="M1306.87,472.60 C1306.53,474.27 1304.52,477.93 1304.86,482.60 C1305.19,487.27 1306.87,494.27 1308.88,500.60 C1310.89,506.93 1315.58,517.27 1316.92,520.60" fill="none" stroke="#8c8c8c" stroke-width="3" stroke-linecap="round" filter="url(#soft)"/><ellipse cx="1305.86" cy="477.6" rx="6.03" ry="8" fill="#cfcfcf" filter="url(#soft)"/><ellipse cx="1367.20" cy="502.6" rx="19.11" ry="12" transform="rotate(-15 1367.20 502.6)" fill="#c4c4c4" filter="url(#soft)"/><ellipse cx="1304.86" cy="560.6" rx="4.02" ry="4" fill="#cfcfcf" filter="url(#soft)"/><ellipse cx="1310.89" cy="580.6" rx="4.02" ry="4" fill="#c4c4c4" filter="url(#soft)"/><ellipse cx="1274.69" cy="690.6" rx="18.10" ry="7" fill="#e0e0e0" filter="url(#soft)"/><rect x="1258.60" y="460.6" width="126.00" height="251.80" filter="url(#fur)" opacity="0.28"/><g transform="translate(1350.50,648.00) rotate(30)" filter="url(#rag)"><ellipse cx="0.00" cy="0.00" rx="9.50" ry="14.00" fill="#2b2f9c"/><ellipse cx="0.00" cy="0.00" rx="8.17" ry="12.04" fill="#3050cc"/></g><g transform="translate(1350.50,650.00) rotate(30)" filter="url(#rag)"><ellipse cx="0.00" cy="0.00" rx="6.50" ry="10.00" fill="#2b2f9c"/><ellipse cx="0.00" cy="0.00" rx="5.59" ry="8.60" fill="#3050cc"/><ellipse cx="0.00" cy="0.00" rx="4.42" ry="6.80" fill="#2fb4e4"/><ellipse cx="0.00" cy="0.00" rx="3.25" ry="5.00" fill="#5cc04a"/><ellipse cx="0.00" cy="0.00" rx="2.08" ry="3.20" fill="#e8e62a"/><ellipse cx="0.00" cy="0.00" rx="1.10" ry="1.70" fill="#e8281e"/></g></g>
<clipPath id="pb1"><rect x="1388.60" y="460.6" width="125.70" height="251.80"/></clipPath><g clip-path="url(#pb1)"><rect x="1388.60" y="460.6" width="125.70" height="251.80" fill="#2c2c2c"/><rect x="1494.94" y="480.6" width="125.70" height="251.80" fill="#3c3c3c" filter="url(#soft)"/><rect x="1383.58" y="455.6" width="40.13" height="46" fill="#0c0c0c" filter="url(#soft)"/><rect x="1383.58" y="522.6" width="17.05" height="156" fill="#111" filter="url(#soft)"/><path d="M1424.71,456.60 C1432.21,452.33 1470.86,454.20 1478.89,456.60 C1486.91,459.00 1483.03,469.27 1484.91,474.60 C1486.78,479.93 1491.19,489.13 1492.93,496.60 C1494.67,504.07 1497.15,518.60 1497.95,530.60 C1498.75,542.60 1498.95,570.60 1498.95,586.60 C1498.95,602.60 1498.75,633.53 1497.95,650.60 C1497.15,667.67 1501.89,706.07 1492.93,714.60 C1483.97,723.13 1441.43,717.53 1430.73,714.60 C1420.03,711.67 1416.15,697.93 1412.68,692.60 C1409.20,687.27 1406.12,685.80 1404.65,674.60 C1403.18,663.40 1401.91,624.47 1401.64,608.60 C1401.37,592.73 1401.98,567.07 1402.64,555.60 C1403.31,544.13 1404.78,529.40 1406.66,522.60 C1408.53,515.80 1414.55,509.13 1416.69,504.60 C1418.83,500.07 1421.64,495.00 1422.71,488.60 C1423.78,482.20 1417.22,460.87 1424.71,456.60Z" fill="url(#gB)" filter="url(#soft)"/><ellipse cx="1458.82" cy="486.6" rx="28.09" ry="30" fill="#2a2a2a" opacity="0.9" filter="url(#blur4)"/><ellipse cx="1474.87" cy="548.6" rx="24.08" ry="55" fill="#2e2e2e" opacity="0.45" filter="url(#blur4)"/><ellipse cx="1428.73" cy="585.6" rx="20.06" ry="48" fill="#8c8c8c" opacity="0.5" filter="url(#blur4)"/><path d="M1422.71,630.60 C1427.06,627.60 1440.43,615.93 1448.79,612.60 C1457.15,609.27 1465.18,608.93 1472.87,610.60 C1480.56,612.27 1491.26,620.60 1494.94,622.60" fill="none" stroke="#363636" stroke-width="7" opacity="0.6" filter="url(#blur2)"/><rect x="1388.60" y="700.6" width="46.15" height="16" fill="#1e1e1e" opacity="0.7" filter="url(#soft)"/><path d="M1407.66,526.60 C1407.16,531.43 1405.32,541.93 1404.65,555.60 C1403.98,569.27 1403.48,590.27 1403.65,608.60 C1403.82,626.93 1403.82,651.60 1405.65,665.60 C1407.49,679.60 1413.18,688.10 1414.68,692.60" fill="none" stroke="#9a9a9a" stroke-width="2.5" filter="url(#soft)"/><rect x="1426.72" y="460.6" width="56.18" height="10" fill="#555" filter="url(#soft)"/><line x1="1428.73" y1="468.6" x2="1480.89" y2="469.6" stroke="#a8a8a8" stroke-width="2" filter="url(#soft)"/><ellipse cx="1403.65" cy="504.6" rx="12.04" ry="7" transform="rotate(22 1403.65 504.6)" fill="#ececec" filter="url(#soft)"/><path d="M1410.67,508.60 C1413.35,509.93 1421.04,511.93 1426.72,516.60 C1432.41,521.27 1441.77,533.27 1444.78,536.60" fill="none" stroke="#c8c8c8" stroke-width="4" stroke-linecap="round" filter="url(#soft)"/><path d="M1436.75,472.60 C1436.42,474.27 1434.41,477.93 1434.75,482.60 C1435.08,487.27 1436.75,494.27 1438.76,500.60 C1440.77,506.93 1445.45,517.27 1446.79,520.60" fill="none" stroke="#8c8c8c" stroke-width="3" stroke-linecap="round" filter="url(#soft)"/><ellipse cx="1435.75" cy="477.6" rx="6.02" ry="8" fill="#cfcfcf" filter="url(#soft)"/><ellipse cx="1496.94" cy="502.6" rx="19.06" ry="12" transform="rotate(-15 1496.94 502.6)" fill="#c4c4c4" filter="url(#soft)"/><ellipse cx="1434.75" cy="560.6" rx="4.01" ry="4" fill="#cfcfcf" filter="url(#soft)"/><ellipse cx="1440.77" cy="580.6" rx="4.01" ry="4" fill="#c4c4c4" filter="url(#soft)"/><ellipse cx="1404.65" cy="690.6" rx="18.06" ry="7" fill="#e0e0e0" filter="url(#soft)"/><rect x="1388.60" y="460.6" width="125.70" height="251.80" filter="url(#fur)" opacity="0.28"/><g transform="translate(1480.00,638.00) rotate(20)" filter="url(#rag)"><ellipse cx="0.00" cy="0.00" rx="4.50" ry="6.50" fill="#2b2f9c"/><ellipse cx="0.00" cy="0.00" rx="3.87" ry="5.59" fill="#3050cc"/><ellipse cx="0.00" cy="0.00" rx="3.06" ry="4.42" fill="#2fb4e4"/><ellipse cx="0.00" cy="0.00" rx="2.25" ry="3.25" fill="#5cc04a"/><ellipse cx="0.00" cy="0.00" rx="1.44" ry="2.08" fill="#e8e62a"/><ellipse cx="0.00" cy="0.00" rx="0.77" ry="1.10" fill="#e8281e"/></g></g>
<clipPath id="pb2"><rect x="1517.70" y="460.6" width="126.00" height="251.80"/></clipPath><g clip-path="url(#pb2)"><rect x="1517.70" y="460.6" width="126.00" height="251.80" fill="#2c2c2c"/><rect x="1624.29" y="480.6" width="126.00" height="251.80" fill="#3c3c3c" filter="url(#soft)"/><rect x="1512.67" y="455.6" width="40.22" height="46" fill="#0c0c0c" filter="url(#soft)"/><rect x="1512.67" y="522.6" width="17.09" height="156" fill="#111" filter="url(#soft)"/><path d="M1553.90,456.60 C1561.41,452.33 1600.16,454.20 1608.20,456.60 C1616.25,459.00 1612.36,469.27 1614.24,474.60 C1616.11,479.93 1620.54,489.13 1622.28,496.60 C1624.02,504.07 1626.50,518.60 1627.31,530.60 C1628.11,542.60 1628.31,570.60 1628.31,586.60 C1628.31,602.60 1628.11,633.53 1627.31,650.60 C1626.50,667.67 1631.26,706.07 1622.28,714.60 C1613.30,723.13 1570.66,717.53 1559.93,714.60 C1549.21,711.67 1545.32,697.93 1541.83,692.60 C1538.35,687.27 1535.26,685.80 1533.79,674.60 C1532.31,663.40 1531.04,624.47 1530.77,608.60 C1530.50,592.73 1531.11,567.07 1531.78,555.60 C1532.45,544.13 1533.92,529.40 1535.80,522.60 C1537.68,515.80 1543.71,509.13 1545.86,504.60 C1548.00,500.07 1550.82,495.00 1551.89,488.60 C1552.96,482.20 1546.39,460.87 1553.90,456.60Z" fill="url(#gB)" filter="url(#soft)"/><ellipse cx="1588.09" cy="486.6" rx="28.16" ry="30" fill="#2a2a2a" opacity="0.9" filter="url(#blur4)"/><ellipse cx="1604.18" cy="548.6" rx="24.13" ry="55" fill="#2e2e2e" opacity="0.45" filter="url(#blur4)"/><ellipse cx="1557.92" cy="585.6" rx="20.11" ry="48" fill="#8c8c8c" opacity="0.5" filter="url(#blur4)"/><path d="M1551.89,630.60 C1556.25,627.60 1569.66,615.93 1578.04,612.60 C1586.42,609.27 1594.46,608.93 1602.17,610.60 C1609.88,612.27 1620.61,620.60 1624.29,622.60" fill="none" stroke="#363636" stroke-width="7" opacity="0.6" filter="url(#blur2)"/><rect x="1517.70" y="700.6" width="46.26" height="16" fill="#1e1e1e" opacity="0.7" filter="url(#soft)"/><path d="M1536.81,526.60 C1536.30,531.43 1534.46,541.93 1533.79,555.60 C1533.12,569.27 1532.62,590.27 1532.78,608.60 C1532.95,626.93 1532.95,651.60 1534.79,665.60 C1536.64,679.60 1542.34,688.10 1543.85,692.60" fill="none" stroke="#9a9a9a" stroke-width="2.5" filter="url(#soft)"/><rect x="1555.91" y="460.6" width="56.31" height="10" fill="#555" filter="url(#soft)"/><line x1="1557.92" y1="468.6" x2="1610.21" y2="469.6" stroke="#a8a8a8" stroke-width="2" filter="url(#soft)"/><ellipse cx="1532.78" cy="504.6" rx="12.07" ry="7" transform="rotate(22 1532.78 504.6)" fill="#ececec" filter="url(#soft)"/><path d="M1539.82,508.60 C1542.50,509.93 1550.21,511.93 1555.91,516.60 C1561.61,521.27 1571.00,533.27 1574.01,536.60" fill="none" stroke="#c8c8c8" stroke-width="4" stroke-linecap="round" filter="url(#soft)"/><path d="M1565.97,472.60 C1565.63,474.27 1563.62,477.93 1563.96,482.60 C1564.29,487.27 1565.97,494.27 1567.98,500.60 C1569.99,506.93 1574.68,517.27 1576.02,520.60" fill="none" stroke="#8c8c8c" stroke-width="3" stroke-linecap="round" filter="url(#soft)"/><ellipse cx="1564.96" cy="477.6" rx="6.03" ry="8" fill="#cfcfcf" filter="url(#soft)"/><ellipse cx="1626.30" cy="502.6" rx="19.11" ry="12" transform="rotate(-15 1626.30 502.6)" fill="#c4c4c4" filter="url(#soft)"/><ellipse cx="1563.96" cy="560.6" rx="4.02" ry="4" fill="#cfcfcf" filter="url(#soft)"/><ellipse cx="1569.99" cy="580.6" rx="4.02" ry="4" fill="#c4c4c4" filter="url(#soft)"/><ellipse cx="1533.79" cy="690.6" rx="18.10" ry="7" fill="#e0e0e0" filter="url(#soft)"/><rect x="1517.70" y="460.6" width="126.00" height="251.80" filter="url(#fur)" opacity="0.28"/><g transform="translate(1606.50,632.50) rotate(0)" filter="url(#rag)"><ellipse cx="0.00" cy="0.00" rx="3.00" ry="3.50" fill="#2b2f9c"/><ellipse cx="0.00" cy="0.00" rx="2.58" ry="3.01" fill="#3050cc"/><ellipse cx="0.00" cy="0.00" rx="2.04" ry="2.38" fill="#2fb4e4"/><ellipse cx="0.00" cy="0.00" rx="1.50" ry="1.75" fill="#5cc04a"/><ellipse cx="0.00" cy="0.00" rx="0.96" ry="1.12" fill="#e8e62a"/></g></g>
<clipPath id="pb3"><rect x="1647.30" y="460.6" width="126.40" height="251.80"/></clipPath><g clip-path="url(#pb3)"><rect x="1647.30" y="460.6" width="126.40" height="251.80" fill="#2c2c2c"/><rect x="1754.23" y="480.6" width="126.40" height="251.80" fill="#3c3c3c" filter="url(#soft)"/><rect x="1642.26" y="455.6" width="40.35" height="46" fill="#0c0c0c" filter="url(#soft)"/><rect x="1642.26" y="522.6" width="17.15" height="156" fill="#111" filter="url(#soft)"/><path d="M1683.62,456.60 C1691.15,452.33 1730.02,454.20 1738.09,456.60 C1746.16,459.00 1742.26,469.27 1744.14,474.60 C1746.03,479.93 1750.46,489.13 1752.21,496.60 C1753.96,504.07 1756.45,518.60 1757.26,530.60 C1758.06,542.60 1758.27,570.60 1758.27,586.60 C1758.27,602.60 1758.06,633.53 1757.26,650.60 C1756.45,667.67 1761.22,706.07 1752.21,714.60 C1743.20,723.13 1700.43,717.53 1689.67,714.60 C1678.91,711.67 1675.01,697.93 1671.51,692.60 C1668.01,687.27 1664.92,685.80 1663.44,674.60 C1661.96,663.40 1660.68,624.47 1660.41,608.60 C1660.15,592.73 1660.75,567.07 1661.42,555.60 C1662.10,544.13 1663.57,529.40 1665.46,522.60 C1667.34,515.80 1673.39,509.13 1675.55,504.60 C1677.70,500.07 1680.52,495.00 1681.60,488.60 C1682.67,482.20 1676.08,460.87 1683.62,456.60Z" fill="url(#gB)" filter="url(#soft)"/><ellipse cx="1717.91" cy="486.6" rx="28.25" ry="30" fill="#2a2a2a" opacity="0.9" filter="url(#blur4)"/><ellipse cx="1734.05" cy="548.6" rx="24.21" ry="55" fill="#2e2e2e" opacity="0.45" filter="url(#blur4)"/><ellipse cx="1687.65" cy="585.6" rx="20.18" ry="48" fill="#8c8c8c" opacity="0.5" filter="url(#blur4)"/><path d="M1681.60,630.60 C1685.97,627.60 1699.42,615.93 1707.83,612.60 C1716.23,609.27 1724.30,608.93 1732.04,610.60 C1739.77,612.27 1750.53,620.60 1754.23,622.60" fill="none" stroke="#363636" stroke-width="7" opacity="0.6" filter="url(#blur2)"/><rect x="1647.30" y="700.6" width="46.40" height="16" fill="#1e1e1e" opacity="0.7" filter="url(#soft)"/><path d="M1666.47,526.60 C1665.96,531.43 1664.11,541.93 1663.44,555.60 C1662.77,569.27 1662.26,590.27 1662.43,608.60 C1662.60,626.93 1662.60,651.60 1664.45,665.60 C1666.30,679.60 1672.02,688.10 1673.53,692.60" fill="none" stroke="#9a9a9a" stroke-width="2.5" filter="url(#soft)"/><rect x="1685.63" y="460.6" width="56.49" height="10" fill="#555" filter="url(#soft)"/><line x1="1687.65" y1="468.6" x2="1740.11" y2="469.6" stroke="#a8a8a8" stroke-width="2" filter="url(#soft)"/><ellipse cx="1662.43" cy="504.6" rx="12.11" ry="7" transform="rotate(22 1662.43 504.6)" fill="#ececec" filter="url(#soft)"/><path d="M1669.49,508.60 C1672.18,509.93 1679.92,511.93 1685.63,516.60 C1691.35,521.27 1700.77,533.27 1703.79,536.60" fill="none" stroke="#c8c8c8" stroke-width="4" stroke-linecap="round" filter="url(#soft)"/><path d="M1695.72,472.60 C1695.39,474.27 1693.37,477.93 1693.70,482.60 C1694.04,487.27 1695.72,494.27 1697.74,500.60 C1699.76,506.93 1704.46,517.27 1705.81,520.60" fill="none" stroke="#8c8c8c" stroke-width="3" stroke-linecap="round" filter="url(#soft)"/><ellipse cx="1694.71" cy="477.6" rx="6.05" ry="8" fill="#cfcfcf" filter="url(#soft)"/><ellipse cx="1756.25" cy="502.6" rx="19.17" ry="12" transform="rotate(-15 1756.25 502.6)" fill="#c4c4c4" filter="url(#soft)"/><ellipse cx="1693.70" cy="560.6" rx="4.04" ry="4" fill="#cfcfcf" filter="url(#soft)"/><ellipse cx="1699.76" cy="580.6" rx="4.04" ry="4" fill="#c4c4c4" filter="url(#soft)"/><ellipse cx="1663.44" cy="690.6" rx="18.16" ry="7" fill="#e0e0e0" filter="url(#soft)"/><rect x="1647.30" y="460.6" width="126.40" height="251.80" filter="url(#fur)" opacity="0.28"/></g>
<clipPath id="pb4"><rect x="1777.00" y="460.6" width="126.50" height="251.80"/></clipPath><g clip-path="url(#pb4)"><rect x="1777.00" y="460.6" width="126.50" height="251.80" fill="#2c2c2c"/><rect x="1884.02" y="480.6" width="126.50" height="251.80" fill="#3c3c3c" filter="url(#soft)"/><rect x="1771.95" y="455.6" width="40.38" height="46" fill="#0c0c0c" filter="url(#soft)"/><rect x="1771.95" y="522.6" width="17.16" height="156" fill="#111" filter="url(#soft)"/><path d="M1813.34,456.60 C1820.88,452.33 1859.79,454.20 1867.86,456.60 C1875.94,459.00 1872.03,469.27 1873.92,474.60 C1875.80,479.93 1880.25,489.13 1882.00,496.60 C1883.75,504.07 1886.24,518.60 1887.04,530.60 C1887.85,542.60 1888.05,570.60 1888.05,586.60 C1888.05,602.60 1887.85,633.53 1887.04,650.60 C1886.24,667.67 1891.01,706.07 1882.00,714.60 C1872.98,723.13 1830.17,717.53 1819.40,714.60 C1808.63,711.67 1804.73,697.93 1801.23,692.60 C1797.73,687.27 1794.63,685.80 1793.15,674.60 C1791.67,663.40 1790.39,624.47 1790.12,608.60 C1789.86,592.73 1790.46,567.07 1791.13,555.60 C1791.81,544.13 1793.29,529.40 1795.17,522.60 C1797.06,515.80 1803.11,509.13 1805.27,504.60 C1807.42,500.07 1810.25,495.00 1811.33,488.60 C1812.40,482.20 1805.81,460.87 1813.34,456.60Z" fill="url(#gB)" filter="url(#soft)"/><ellipse cx="1847.67" cy="486.6" rx="28.27" ry="30" fill="#2a2a2a" opacity="0.9" filter="url(#blur4)"/><ellipse cx="1863.82" cy="548.6" rx="24.23" ry="55" fill="#2e2e2e" opacity="0.45" filter="url(#blur4)"/><ellipse cx="1817.38" cy="585.6" rx="20.19" ry="48" fill="#8c8c8c" opacity="0.5" filter="url(#blur4)"/><path d="M1811.33,630.60 C1815.70,627.60 1829.16,615.93 1837.57,612.60 C1845.99,609.27 1854.06,608.93 1861.80,610.60 C1869.54,612.27 1880.31,620.60 1884.02,622.60" fill="none" stroke="#363636" stroke-width="7" opacity="0.6" filter="url(#blur2)"/><rect x="1777.00" y="700.6" width="46.44" height="16" fill="#1e1e1e" opacity="0.7" filter="url(#soft)"/><path d="M1796.18,526.60 C1795.68,531.43 1793.83,541.93 1793.15,555.60 C1792.48,569.27 1791.98,590.27 1792.14,608.60 C1792.31,626.93 1792.31,651.60 1794.16,665.60 C1796.01,679.60 1801.73,688.10 1803.25,692.60" fill="none" stroke="#9a9a9a" stroke-width="2.5" filter="url(#soft)"/><rect x="1815.36" y="460.6" width="56.54" height="10" fill="#555" filter="url(#soft)"/><line x1="1817.38" y1="468.6" x2="1869.88" y2="469.6" stroke="#a8a8a8" stroke-width="2" filter="url(#soft)"/><ellipse cx="1792.14" cy="504.6" rx="12.11" ry="7" transform="rotate(22 1792.14 504.6)" fill="#ececec" filter="url(#soft)"/><path d="M1799.21,508.60 C1801.90,509.93 1809.64,511.93 1815.36,516.60 C1821.08,521.27 1830.51,533.27 1833.54,536.60" fill="none" stroke="#c8c8c8" stroke-width="4" stroke-linecap="round" filter="url(#soft)"/><path d="M1825.46,472.60 C1825.12,474.27 1823.10,477.93 1823.44,482.60 C1823.78,487.27 1825.46,494.27 1827.48,500.60 C1829.50,506.93 1834.21,517.27 1835.56,520.60" fill="none" stroke="#8c8c8c" stroke-width="3" stroke-linecap="round" filter="url(#soft)"/><ellipse cx="1824.45" cy="477.6" rx="6.06" ry="8" fill="#cfcfcf" filter="url(#soft)"/><ellipse cx="1886.03" cy="502.6" rx="19.18" ry="12" transform="rotate(-15 1886.03 502.6)" fill="#c4c4c4" filter="url(#soft)"/><ellipse cx="1823.44" cy="560.6" rx="4.04" ry="4" fill="#cfcfcf" filter="url(#soft)"/><ellipse cx="1829.50" cy="580.6" rx="4.04" ry="4" fill="#c4c4c4" filter="url(#soft)"/><ellipse cx="1793.15" cy="690.6" rx="18.17" ry="7" fill="#e0e0e0" filter="url(#soft)"/><rect x="1777.00" y="460.6" width="126.50" height="251.80" filter="url(#fur)" opacity="0.28"/></g>
<clipPath id="pb5"><rect x="1906.60" y="460.6" width="126.60" height="251.80"/></clipPath><g clip-path="url(#pb5)"><rect x="1906.60" y="460.6" width="126.60" height="251.80" fill="#2c2c2c"/><rect x="2013.70" y="480.6" width="126.60" height="251.80" fill="#3c3c3c" filter="url(#soft)"/><rect x="1901.55" y="455.6" width="40.42" height="46" fill="#0c0c0c" filter="url(#soft)"/><rect x="1901.55" y="522.6" width="17.18" height="156" fill="#111" filter="url(#soft)"/><path d="M1942.97,456.60 C1950.52,452.33 1989.45,454.20 1997.53,456.60 C2005.62,459.00 2001.71,469.27 2003.60,474.60 C2005.48,479.93 2009.93,489.13 2011.68,496.60 C2013.43,504.07 2015.92,518.60 2016.73,530.60 C2017.54,542.60 2017.74,570.60 2017.74,586.60 C2017.74,602.60 2017.54,633.53 2016.73,650.60 C2015.92,667.67 2020.71,706.07 2011.68,714.60 C2002.65,723.13 1959.81,717.53 1949.04,714.60 C1938.26,711.67 1934.35,697.93 1930.85,692.60 C1927.35,687.27 1924.25,685.80 1922.77,674.60 C1921.28,663.40 1920.00,624.47 1919.73,608.60 C1919.47,592.73 1920.07,567.07 1920.75,555.60 C1921.42,544.13 1922.90,529.40 1924.79,522.60 C1926.67,515.80 1932.74,509.13 1934.89,504.60 C1937.05,500.07 1939.88,495.00 1940.95,488.60 C1942.03,482.20 1935.43,460.87 1942.97,456.60Z" fill="url(#gB)" filter="url(#soft)"/><ellipse cx="1977.33" cy="486.6" rx="28.29" ry="30" fill="#2a2a2a" opacity="0.9" filter="url(#blur4)"/><ellipse cx="1993.49" cy="548.6" rx="24.25" ry="55" fill="#2e2e2e" opacity="0.45" filter="url(#blur4)"/><ellipse cx="1947.02" cy="585.6" rx="20.21" ry="48" fill="#8c8c8c" opacity="0.5" filter="url(#blur4)"/><path d="M1940.95,630.60 C1945.33,627.60 1958.80,615.93 1967.22,612.60 C1975.64,609.27 1983.73,608.93 1991.47,610.60 C1999.22,612.27 2010.00,620.60 2013.70,622.60" fill="none" stroke="#363636" stroke-width="7" opacity="0.6" filter="url(#blur2)"/><rect x="1906.60" y="700.6" width="46.48" height="16" fill="#1e1e1e" opacity="0.7" filter="url(#soft)"/><path d="M1925.80,526.60 C1925.29,531.43 1923.44,541.93 1922.77,555.60 C1922.09,569.27 1921.59,590.27 1921.76,608.60 C1921.92,626.93 1921.92,651.60 1923.78,665.60 C1925.63,679.60 1931.35,688.10 1932.87,692.60" fill="none" stroke="#9a9a9a" stroke-width="2.5" filter="url(#soft)"/><rect x="1944.99" y="460.6" width="56.58" height="10" fill="#555" filter="url(#soft)"/><line x1="1947.02" y1="468.6" x2="1999.55" y2="469.6" stroke="#a8a8a8" stroke-width="2" filter="url(#soft)"/><ellipse cx="1921.76" cy="504.6" rx="12.12" ry="7" transform="rotate(22 1921.76 504.6)" fill="#ececec" filter="url(#soft)"/><path d="M1928.83,508.60 C1931.52,509.93 1939.27,511.93 1944.99,516.60 C1950.72,521.27 1960.15,533.27 1963.18,536.60" fill="none" stroke="#c8c8c8" stroke-width="4" stroke-linecap="round" filter="url(#soft)"/><path d="M1955.10,472.60 C1954.76,474.27 1952.74,477.93 1953.08,482.60 C1953.41,487.27 1955.10,494.27 1957.12,500.60 C1959.14,506.93 1963.85,517.27 1965.20,520.60" fill="none" stroke="#8c8c8c" stroke-width="3" stroke-linecap="round" filter="url(#soft)"/><ellipse cx="1954.09" cy="477.6" rx="6.06" ry="8" fill="#cfcfcf" filter="url(#soft)"/><ellipse cx="2015.72" cy="502.6" rx="19.20" ry="12" transform="rotate(-15 2015.72 502.6)" fill="#c4c4c4" filter="url(#soft)"/><ellipse cx="1953.08" cy="560.6" rx="4.04" ry="4" fill="#cfcfcf" filter="url(#soft)"/><ellipse cx="1959.14" cy="580.6" rx="4.04" ry="4" fill="#c4c4c4" filter="url(#soft)"/><ellipse cx="1922.77" cy="690.6" rx="18.19" ry="7" fill="#e0e0e0" filter="url(#soft)"/><rect x="1906.60" y="460.6" width="126.60" height="251.80" filter="url(#fur)" opacity="0.28"/></g>
<clipPath id="pb6"><rect x="2036.50" y="460.6" width="126.30" height="251.80"/></clipPath><g clip-path="url(#pb6)"><rect x="2036.50" y="460.6" width="126.30" height="251.80" fill="#2c2c2c"/><rect x="2143.35" y="480.6" width="126.30" height="251.80" fill="#3c3c3c" filter="url(#soft)"/><rect x="2031.46" y="455.6" width="40.32" height="46" fill="#0c0c0c" filter="url(#soft)"/><rect x="2031.46" y="522.6" width="17.14" height="156" fill="#111" filter="url(#soft)"/><path d="M2072.79,456.60 C2080.31,452.33 2119.15,454.20 2127.22,456.60 C2135.28,459.00 2131.38,469.27 2133.27,474.60 C2135.15,479.93 2139.58,489.13 2141.33,496.60 C2143.08,504.07 2145.56,518.60 2146.37,530.60 C2147.18,542.60 2147.38,570.60 2147.38,586.60 C2147.38,602.60 2147.18,633.53 2146.37,650.60 C2145.56,667.67 2150.33,706.07 2141.33,714.60 C2132.33,723.13 2089.59,717.53 2078.84,714.60 C2068.08,711.67 2064.19,697.93 2060.69,692.60 C2057.20,687.27 2054.11,685.80 2052.63,674.60 C2051.15,663.40 2049.87,624.47 2049.60,608.60 C2049.33,592.73 2049.94,567.07 2050.61,555.60 C2051.28,544.13 2052.76,529.40 2054.64,522.60 C2056.53,515.80 2062.57,509.13 2064.72,504.60 C2066.87,500.07 2069.70,495.00 2070.77,488.60 C2071.85,482.20 2065.26,460.87 2072.79,456.60Z" fill="url(#gB)" filter="url(#soft)"/><ellipse cx="2107.06" cy="486.6" rx="28.22" ry="30" fill="#2a2a2a" opacity="0.9" filter="url(#blur4)"/><ellipse cx="2123.19" cy="548.6" rx="24.19" ry="55" fill="#2e2e2e" opacity="0.45" filter="url(#blur4)"/><ellipse cx="2076.82" cy="585.6" rx="20.16" ry="48" fill="#8c8c8c" opacity="0.5" filter="url(#blur4)"/><path d="M2070.77,630.60 C2075.14,627.60 2088.58,615.93 2096.98,612.60 C2105.38,609.27 2113.44,608.93 2121.17,610.60 C2128.90,612.27 2139.65,620.60 2143.35,622.60" fill="none" stroke="#363636" stroke-width="7" opacity="0.6" filter="url(#blur2)"/><rect x="2036.50" y="700.6" width="46.37" height="16" fill="#1e1e1e" opacity="0.7" filter="url(#soft)"/><path d="M2055.65,526.60 C2055.15,531.43 2053.30,541.93 2052.63,555.60 C2051.96,569.27 2051.45,590.27 2051.62,608.60 C2051.79,626.93 2051.79,651.60 2053.64,665.60 C2055.48,679.60 2061.20,688.10 2062.71,692.60" fill="none" stroke="#9a9a9a" stroke-width="2.5" filter="url(#soft)"/><rect x="2074.80" y="460.6" width="56.45" height="10" fill="#555" filter="url(#soft)"/><line x1="2076.82" y1="468.6" x2="2129.23" y2="469.6" stroke="#a8a8a8" stroke-width="2" filter="url(#soft)"/><ellipse cx="2051.62" cy="504.6" rx="12.10" ry="7" transform="rotate(22 2051.62 504.6)" fill="#ececec" filter="url(#soft)"/><path d="M2058.68,508.60 C2061.36,509.93 2069.09,511.93 2074.80,516.60 C2080.52,521.27 2089.92,533.27 2092.95,536.60" fill="none" stroke="#c8c8c8" stroke-width="4" stroke-linecap="round" filter="url(#soft)"/><path d="M2084.88,472.60 C2084.55,474.27 2082.53,477.93 2082.87,482.60 C2083.20,487.27 2084.88,494.27 2086.90,500.60 C2088.92,506.93 2093.62,517.27 2094.96,520.60" fill="none" stroke="#8c8c8c" stroke-width="3" stroke-linecap="round" filter="url(#soft)"/><ellipse cx="2083.88" cy="477.6" rx="6.05" ry="8" fill="#cfcfcf" filter="url(#soft)"/><ellipse cx="2145.36" cy="502.6" rx="19.15" ry="12" transform="rotate(-15 2145.36 502.6)" fill="#c4c4c4" filter="url(#soft)"/><ellipse cx="2082.87" cy="560.6" rx="4.03" ry="4" fill="#cfcfcf" filter="url(#soft)"/><ellipse cx="2088.92" cy="580.6" rx="4.03" ry="4" fill="#c4c4c4" filter="url(#soft)"/><ellipse cx="2052.63" cy="690.6" rx="18.14" ry="7" fill="#e0e0e0" filter="url(#soft)"/><rect x="2036.50" y="460.6" width="126.30" height="251.80" filter="url(#fur)" opacity="0.28"/></g>
<text x="157.96" y="457.70" font-size="34" textLength="38.22" lengthAdjust="spacingAndGlyphs" fill="#000">d1</text>
<text x="266.10" y="457.70" font-size="34" textLength="63.59" lengthAdjust="spacingAndGlyphs" fill="#000">d10</text>
<text x="396.57" y="457.70" font-size="34" textLength="64.87" lengthAdjust="spacingAndGlyphs" fill="#000">d15</text>
<text x="530.21" y="457.70" font-size="34" textLength="63.06" lengthAdjust="spacingAndGlyphs" fill="#000">d20</text>
<text x="656.15" y="457.70" font-size="34" textLength="61.42" lengthAdjust="spacingAndGlyphs" fill="#000">d34</text>
<text x="790.17" y="457.70" font-size="34" textLength="64.78" lengthAdjust="spacingAndGlyphs" fill="#000">d62</text>
<text x="910.33" y="457.70" font-size="34" textLength="83.03" lengthAdjust="spacingAndGlyphs" fill="#000">d110</text>
<text x="1313.81" y="449.40" font-size="34.5" textLength="42.07" lengthAdjust="spacingAndGlyphs" fill="#000">d0</text>
<text x="1439.53" y="449.40" font-size="34.5" textLength="38.87" lengthAdjust="spacingAndGlyphs" fill="#000">d1</text>
<text x="1569.39" y="449.40" font-size="34.5" textLength="42.75" lengthAdjust="spacingAndGlyphs" fill="#000">d2</text>
<text x="1694.73" y="449.40" font-size="34.5" textLength="44.30" lengthAdjust="spacingAndGlyphs" fill="#000">d8</text>
<text x="1807.39" y="449.40" font-size="34.5" textLength="64.02" lengthAdjust="spacingAndGlyphs" fill="#000">d15</text>
<text x="1936.98" y="449.40" font-size="34.5" textLength="64.36" lengthAdjust="spacingAndGlyphs" fill="#000">d22</text>
<text x="2066.88" y="449.40" font-size="34.5" textLength="64.24" lengthAdjust="spacingAndGlyphs" fill="#000">d29</text>
<text x="38.22" y="47.60" font-size="55" font-weight="bold" textLength="26.28" lengthAdjust="spacingAndGlyphs" fill="#000">a</text>
<text x="1166.62" y="46.90" font-size="55" font-weight="bold" textLength="33.21" lengthAdjust="spacingAndGlyphs" fill="#000">b</text>
<text x="32.27" y="115.30" font-size="34" textLength="404.30" lengthAdjust="spacingAndGlyphs" fill="#000">uncloaked FS luciferase+</text>
<text x="16.50" y="158.20" font-size="34" textLength="384.57" lengthAdjust="spacingAndGlyphs" fill="#000">human ESCs (FS hESC</text>
<text x="401.71" y="146.80" font-size="19" textLength="38.30" lengthAdjust="spacingAndGlyphs" fill="#000">luc+</text>
<text x="442.72" y="158.20" font-size="34" textLength="10.05" lengthAdjust="spacingAndGlyphs" fill="#000">)</text>
<text x="1179.16" y="115.40" font-size="34" textLength="405.62" lengthAdjust="spacingAndGlyphs" fill="#000">uncloaked FS luciferase+</text>
<text x="1163.40" y="158.40" font-size="34" textLength="384.47" lengthAdjust="spacingAndGlyphs" fill="#000">human ESCs (FS hESC</text>
<text x="1548.37" y="146.70" font-size="19" textLength="39.58" lengthAdjust="spacingAndGlyphs" fill="#000">luc+</text>
<text x="1589.41" y="158.40" font-size="34" textLength="10.93" lengthAdjust="spacingAndGlyphs" fill="#000">)</text>
<g transform="translate(0.00,0.00)" stroke="#2a1020" stroke-width="1.7" fill="#d4a2c6"><ellipse cx="217.2" cy="224.6" rx="34.5" ry="34.3"/><ellipse cx="206.5" cy="220.8" rx="14.8" ry="13.6"/><ellipse cx="213.6" cy="267.2" rx="34.2" ry="31.5"/><ellipse cx="203.1" cy="266.1" rx="14.6" ry="13.6"/><ellipse cx="250.6" cy="237.7" rx="34.2" ry="31.7"/><ellipse cx="239.5" cy="236.8" rx="15.2" ry="13.6"/></g>
<g transform="translate(1171.10,0.00)" stroke="#2a1020" stroke-width="1.7" fill="#d4a2c6"><ellipse cx="217.2" cy="224.6" rx="34.5" ry="34.3"/><ellipse cx="206.5" cy="220.8" rx="14.8" ry="13.6"/><ellipse cx="213.6" cy="267.2" rx="34.2" ry="31.5"/><ellipse cx="203.1" cy="266.1" rx="14.6" ry="13.6"/><ellipse cx="250.6" cy="237.7" rx="34.2" ry="31.7"/><ellipse cx="239.5" cy="236.8" rx="15.2" ry="13.6"/></g>
<line x1="316.05" y1="245.6" x2="369.3" y2="245.6" stroke="#000" stroke-width="3.5" stroke-linecap="round"/><path d="M368.3,232.9 L390.4,245.6 L368.3,258.3Z" fill="#000"/>
<line x1="551.7" y1="245.3" x2="598" y2="245.3" stroke="#000" stroke-width="4.4" stroke-linecap="round"/><path d="M597,229.4 L624.9,245.3 L597,260.9Z" fill="#000"/>
<line x1="770.85" y1="245.4" x2="841.5" y2="245.4" stroke="#000" stroke-width="4.5" stroke-linecap="round"/><path d="M840.5,229.3 L869.1,245.4 L840.5,261.8Z" fill="#000"/>
<line x1="1487.45" y1="245.7" x2="1534.2" y2="245.7" stroke="#000" stroke-width="3.5" stroke-linecap="round"/><path d="M1533.2,229.1 L1560.7,245.7 L1533.2,262.2Z" fill="#000"/>
<line x1="1699.75" y1="245.7" x2="1785.5" y2="245.7" stroke="#000" stroke-width="4.5" stroke-linecap="round"/><path d="M1784.5,229.7 L1812.6,245.7 L1784.5,261.8Z" fill="#000"/>
<g transform="translate(465.40,138.00)"><path d="M0.00,-0.50 C0.74,-0.47 2.85,0.76 3.70,1.50 C4.55,2.24 7.61,5.68 8.50,6.90 C9.39,8.12 11.92,12.34 12.60,13.70 C13.28,15.06 14.86,19.17 15.30,20.50 C15.74,21.83 16.46,26.22 17.00,27.00 C17.54,27.78 19.92,27.79 20.70,28.30 C21.48,28.81 24.19,31.11 24.80,32.10 C25.41,33.09 26.46,37.05 26.80,38.20 C27.14,39.35 27.96,42.38 28.20,43.60 C28.44,44.82 29.34,49.18 29.20,50.40 C29.06,51.62 27.17,54.64 26.80,55.80 C26.43,56.96 25.63,60.57 25.50,62.00 C25.37,63.43 25.47,68.40 25.50,70.10 C25.53,71.80 25.67,77.37 25.80,79.00 C25.93,80.63 26.49,84.84 26.80,86.40 C27.11,87.96 28.49,92.83 28.90,94.60 C29.31,96.37 30.53,102.06 30.90,104.10 C31.27,106.14 32.33,112.76 32.60,115.00 C32.87,117.24 33.57,124.32 33.60,126.50 C33.63,128.68 33.24,135.09 32.90,136.80 C32.56,138.51 31.01,142.24 30.20,143.60 C29.39,144.96 25.82,149.45 24.80,150.40 C23.78,151.35 20.51,152.42 20.00,153.10 C19.49,153.78 19.42,156.25 19.70,157.20 C19.98,158.15 22.09,161.31 22.80,162.60 C23.51,163.89 26.40,169.01 26.80,170.10 C27.20,171.19 27.00,173.03 26.80,173.50 C26.60,173.97 25.34,174.46 24.80,174.80 C24.26,175.14 22.01,176.97 21.40,176.90 C20.79,176.83 19.04,174.72 18.70,174.10 C18.36,173.48 18.34,171.65 18.00,170.70 C17.66,169.75 15.84,165.75 15.30,164.60 C14.76,163.45 13.08,160.28 12.60,159.20 C12.12,158.12 11.45,153.87 10.50,153.80 C9.55,153.73 3.91,157.14 3.10,158.50 C2.29,159.86 2.44,165.50 2.40,167.40 C2.36,169.30 2.84,175.26 2.70,177.50 C2.56,179.74 1.64,187.83 1.00,189.80 C0.36,191.77 -2.62,196.18 -3.70,197.20 C-4.78,198.22 -8.37,199.76 -9.80,200.00 C-11.23,200.24 -16.30,199.81 -18.00,199.60 C-19.70,199.39 -25.65,198.34 -26.80,197.90 C-27.95,197.46 -29.84,195.47 -29.50,195.20 C-29.16,194.93 -24.89,195.10 -23.40,195.20 C-21.91,195.30 -16.23,196.27 -14.60,196.20 C-12.97,196.13 -8.22,195.35 -7.10,194.50 C-5.98,193.65 -3.91,189.40 -3.40,187.70 C-2.89,186.00 -2.07,179.53 -2.00,177.50 C-1.93,175.47 -2.53,169.37 -2.70,167.40 C-2.87,165.43 -2.95,159.20 -3.70,157.80 C-4.45,156.40 -9.52,153.46 -10.20,153.40 C-10.88,153.34 -10.13,156.28 -10.50,157.20 C-10.87,158.12 -13.25,161.52 -13.90,162.60 C-14.55,163.68 -16.56,166.91 -17.00,168.00 C-17.44,169.09 -18.00,172.89 -18.30,173.50 C-18.60,174.11 -19.59,173.76 -20.00,174.10 C-20.41,174.44 -21.92,176.76 -22.40,176.90 C-22.88,177.04 -24.26,175.84 -24.80,175.50 C-25.34,175.16 -27.50,174.11 -27.80,173.50 C-28.10,172.89 -28.10,170.49 -27.80,169.40 C-27.50,168.31 -25.51,163.96 -24.80,162.60 C-24.09,161.24 -20.97,156.85 -20.70,155.80 C-20.43,154.75 -21.49,152.78 -22.10,152.10 C-22.71,151.42 -25.92,149.85 -26.80,149.00 C-27.68,148.15 -30.19,144.82 -30.90,143.60 C-31.61,142.38 -33.59,138.51 -33.90,136.80 C-34.21,135.09 -34.03,128.55 -34.00,126.50 C-33.97,124.45 -33.77,118.34 -33.60,116.30 C-33.43,114.26 -32.64,108.13 -32.30,106.10 C-31.96,104.07 -30.65,97.97 -30.20,96.00 C-29.75,94.03 -28.14,88.10 -27.80,86.40 C-27.46,84.70 -26.97,80.63 -26.80,79.00 C-26.63,77.37 -26.06,71.80 -26.10,70.10 C-26.14,68.40 -27.03,63.29 -27.20,62.00 C-27.37,60.71 -27.46,58.22 -27.80,57.20 C-28.14,56.18 -30.36,52.89 -30.60,51.80 C-30.84,50.71 -30.44,47.66 -30.20,46.30 C-29.96,44.94 -28.54,39.56 -28.20,38.20 C-27.86,36.84 -27.28,33.65 -26.80,32.70 C-26.32,31.75 -24.28,29.10 -23.40,28.70 C-22.52,28.30 -18.64,29.11 -18.00,28.70 C-17.36,28.29 -17.34,25.69 -17.00,24.60 C-16.66,23.51 -15.11,19.09 -14.60,17.80 C-14.09,16.51 -12.51,12.85 -11.90,11.70 C-11.29,10.55 -9.32,7.35 -8.50,6.30 C-7.68,5.25 -4.55,1.88 -3.70,1.20 C-2.85,0.52 -0.74,-0.53 0.00,-0.50Z" fill="#fff" stroke="#111" stroke-width="1.6" stroke-linejoin="round"/><path d="M-13.20,26.60 C-12.83,26.08 -11.78,24.28 -11.00,23.50 C-10.22,22.72 -8.92,22.17 -8.50,21.90" fill="none" stroke="#111" stroke-width="1.1" stroke-linecap="round"/><path d="M7.10,21.20 C7.58,21.58 9.08,22.48 10.00,23.50 C10.92,24.52 12.17,26.67 12.60,27.30" fill="none" stroke="#111" stroke-width="1.1" stroke-linecap="round"/><path d="M-18.00,36.10 C-17.67,37.35 -16.00,40.88 -16.00,43.60 C-16.00,46.32 -17.67,50.93 -18.00,52.40" fill="none" stroke="#111" stroke-width="1.1" stroke-linecap="round"/><path d="M-12.20,46.30 C-12.42,47.25 -12.93,50.18 -13.50,52.00 C-14.07,53.82 -15.25,56.33 -15.60,57.20" fill="none" stroke="#111" stroke-width="1.1" stroke-linecap="round"/><path d="M17.30,36.10 C16.97,37.35 15.30,40.77 15.30,43.60 C15.30,46.43 16.97,51.52 17.30,53.10" fill="none" stroke="#111" stroke-width="1.1" stroke-linecap="round"/><path d="M12.20,46.30 C12.42,47.25 12.98,50.18 13.50,52.00 C14.02,53.82 15.00,56.33 15.30,57.20" fill="none" stroke="#111" stroke-width="1.1" stroke-linecap="round"/><path d="M-18.00,28.70 C-18.67,29.42 -20.47,31.30 -22.00,33.00 C-23.53,34.70 -26.33,37.92 -27.20,38.90" fill="none" stroke="#111" stroke-width="1.1" stroke-linecap="round"/><path d="M17.00,28.70 C17.67,29.42 19.47,31.30 21.00,33.00 C22.53,34.70 25.33,37.92 26.20,38.90" fill="none" stroke="#111" stroke-width="1.1" stroke-linecap="round"/><path d="M-29.84,114.16 C-29.10,112.45 -27.78,110.24 -26.28,109.28 C-24.78,108.32 -22.76,108.21 -20.83,108.39 C-18.90,108.58 -16.11,109.04 -14.70,110.39 C-13.29,111.75 -12.67,114.28 -12.38,116.53 C-12.08,118.78 -12.23,121.82 -12.92,123.88 C-13.62,125.93 -14.62,128.02 -16.55,128.83 C-18.48,129.64 -22.27,129.46 -24.51,128.74 C-26.74,128.01 -28.91,126.01 -29.94,124.48 C-30.98,122.94 -30.73,121.26 -30.71,119.55 C-30.69,117.83 -30.58,115.88 -29.84,114.16Z" fill="#d4a2c6" stroke="#150a10" stroke-width="2.5"/><path d="M9.63,115.41 C10.32,113.31 12.81,110.98 14.43,109.98 C16.04,108.98 17.72,108.98 19.32,109.40 C20.92,109.82 22.52,111.00 24.01,112.51 C25.51,114.01 27.77,116.54 28.30,118.43 C28.83,120.33 28.48,122.28 27.18,123.87 C25.87,125.47 22.60,127.32 20.47,128.02 C18.34,128.73 16.09,129.01 14.40,128.11 C12.70,127.20 11.08,124.71 10.29,122.59 C9.49,120.48 8.94,117.51 9.63,115.41Z" fill="#d4a2c6" stroke="#150a10" stroke-width="2.5"/></g>
<g transform="translate(699.80,142.80)"><path d="M0.00,-0.50 C0.74,-0.47 2.85,0.76 3.70,1.50 C4.55,2.24 7.61,5.68 8.50,6.90 C9.39,8.12 11.92,12.34 12.60,13.70 C13.28,15.06 14.86,19.17 15.30,20.50 C15.74,21.83 16.46,26.22 17.00,27.00 C17.54,27.78 19.92,27.79 20.70,28.30 C21.48,28.81 24.19,31.11 24.80,32.10 C25.41,33.09 26.46,37.05 26.80,38.20 C27.14,39.35 27.96,42.38 28.20,43.60 C28.44,44.82 29.34,49.18 29.20,50.40 C29.06,51.62 27.17,54.64 26.80,55.80 C26.43,56.96 25.63,60.57 25.50,62.00 C25.37,63.43 25.47,68.40 25.50,70.10 C25.53,71.80 25.67,77.37 25.80,79.00 C25.93,80.63 26.49,84.84 26.80,86.40 C27.11,87.96 28.49,92.83 28.90,94.60 C29.31,96.37 30.53,102.06 30.90,104.10 C31.27,106.14 32.33,112.76 32.60,115.00 C32.87,117.24 33.57,124.32 33.60,126.50 C33.63,128.68 33.24,135.09 32.90,136.80 C32.56,138.51 31.01,142.24 30.20,143.60 C29.39,144.96 25.82,149.45 24.80,150.40 C23.78,151.35 20.51,152.42 20.00,153.10 C19.49,153.78 19.42,156.25 19.70,157.20 C19.98,158.15 22.09,161.31 22.80,162.60 C23.51,163.89 26.40,169.01 26.80,170.10 C27.20,171.19 27.00,173.03 26.80,173.50 C26.60,173.97 25.34,174.46 24.80,174.80 C24.26,175.14 22.01,176.97 21.40,176.90 C20.79,176.83 19.04,174.72 18.70,174.10 C18.36,173.48 18.34,171.65 18.00,170.70 C17.66,169.75 15.84,165.75 15.30,164.60 C14.76,163.45 13.08,160.28 12.60,159.20 C12.12,158.12 11.45,153.87 10.50,153.80 C9.55,153.73 3.91,157.14 3.10,158.50 C2.29,159.86 2.44,165.50 2.40,167.40 C2.36,169.30 2.84,175.26 2.70,177.50 C2.56,179.74 1.64,187.83 1.00,189.80 C0.36,191.77 -2.62,196.18 -3.70,197.20 C-4.78,198.22 -8.37,199.76 -9.80,200.00 C-11.23,200.24 -16.30,199.81 -18.00,199.60 C-19.70,199.39 -25.65,198.34 -26.80,197.90 C-27.95,197.46 -29.84,195.47 -29.50,195.20 C-29.16,194.93 -24.89,195.10 -23.40,195.20 C-21.91,195.30 -16.23,196.27 -14.60,196.20 C-12.97,196.13 -8.22,195.35 -7.10,194.50 C-5.98,193.65 -3.91,189.40 -3.40,187.70 C-2.89,186.00 -2.07,179.53 -2.00,177.50 C-1.93,175.47 -2.53,169.37 -2.70,167.40 C-2.87,165.43 -2.95,159.20 -3.70,157.80 C-4.45,156.40 -9.52,153.46 -10.20,153.40 C-10.88,153.34 -10.13,156.28 -10.50,157.20 C-10.87,158.12 -13.25,161.52 -13.90,162.60 C-14.55,163.68 -16.56,166.91 -17.00,168.00 C-17.44,169.09 -18.00,172.89 -18.30,173.50 C-18.60,174.11 -19.59,173.76 -20.00,174.10 C-20.41,174.44 -21.92,176.76 -22.40,176.90 C-22.88,177.04 -24.26,175.84 -24.80,175.50 C-25.34,175.16 -27.50,174.11 -27.80,173.50 C-28.10,172.89 -28.10,170.49 -27.80,169.40 C-27.50,168.31 -25.51,163.96 -24.80,162.60 C-24.09,161.24 -20.97,156.85 -20.70,155.80 C-20.43,154.75 -21.49,152.78 -22.10,152.10 C-22.71,151.42 -25.92,149.85 -26.80,149.00 C-27.68,148.15 -30.19,144.82 -30.90,143.60 C-31.61,142.38 -33.59,138.51 -33.90,136.80 C-34.21,135.09 -34.03,128.55 -34.00,126.50 C-33.97,124.45 -33.77,118.34 -33.60,116.30 C-33.43,114.26 -32.64,108.13 -32.30,106.10 C-31.96,104.07 -30.65,97.97 -30.20,96.00 C-29.75,94.03 -28.14,88.10 -27.80,86.40 C-27.46,84.70 -26.97,80.63 -26.80,79.00 C-26.63,77.37 -26.06,71.80 -26.10,70.10 C-26.14,68.40 -27.03,63.29 -27.20,62.00 C-27.37,60.71 -27.46,58.22 -27.80,57.20 C-28.14,56.18 -30.36,52.89 -30.60,51.80 C-30.84,50.71 -30.44,47.66 -30.20,46.30 C-29.96,44.94 -28.54,39.56 -28.20,38.20 C-27.86,36.84 -27.28,33.65 -26.80,32.70 C-26.32,31.75 -24.28,29.10 -23.40,28.70 C-22.52,28.30 -18.64,29.11 -18.00,28.70 C-17.36,28.29 -17.34,25.69 -17.00,24.60 C-16.66,23.51 -15.11,19.09 -14.60,17.80 C-14.09,16.51 -12.51,12.85 -11.90,11.70 C-11.29,10.55 -9.32,7.35 -8.50,6.30 C-7.68,5.25 -4.55,1.88 -3.70,1.20 C-2.85,0.52 -0.74,-0.53 0.00,-0.50Z" fill="#fff" stroke="#111" stroke-width="1.6" stroke-linejoin="round"/><path d="M-13.20,26.60 C-12.83,26.08 -11.78,24.28 -11.00,23.50 C-10.22,22.72 -8.92,22.17 -8.50,21.90" fill="none" stroke="#111" stroke-width="1.1" stroke-linecap="round"/><path d="M7.10,21.20 C7.58,21.58 9.08,22.48 10.00,23.50 C10.92,24.52 12.17,26.67 12.60,27.30" fill="none" stroke="#111" stroke-width="1.1" stroke-linecap="round"/><path d="M-18.00,36.10 C-17.67,37.35 -16.00,40.88 -16.00,43.60 C-16.00,46.32 -17.67,50.93 -18.00,52.40" fill="none" stroke="#111" stroke-width="1.1" stroke-linecap="round"/><path d="M-12.20,46.30 C-12.42,47.25 -12.93,50.18 -13.50,52.00 C-14.07,53.82 -15.25,56.33 -15.60,57.20" fill="none" stroke="#111" stroke-width="1.1" stroke-linecap="round"/><path d="M17.30,36.10 C16.97,37.35 15.30,40.77 15.30,43.60 C15.30,46.43 16.97,51.52 17.30,53.10" fill="none" stroke="#111" stroke-width="1.1" stroke-linecap="round"/><path d="M12.20,46.30 C12.42,47.25 12.98,50.18 13.50,52.00 C14.02,53.82 15.00,56.33 15.30,57.20" fill="none" stroke="#111" stroke-width="1.1" stroke-linecap="round"/><path d="M-18.00,28.70 C-18.67,29.42 -20.47,31.30 -22.00,33.00 C-23.53,34.70 -26.33,37.92 -27.20,38.90" fill="none" stroke="#111" stroke-width="1.1" stroke-linecap="round"/><path d="M17.00,28.70 C17.67,29.42 19.47,31.30 21.00,33.00 C22.53,34.70 25.33,37.92 26.20,38.90" fill="none" stroke="#111" stroke-width="1.1" stroke-linecap="round"/><path d="M-29.84,114.16 C-29.10,112.45 -27.78,110.24 -26.28,109.28 C-24.78,108.32 -22.76,108.21 -20.83,108.39 C-18.90,108.58 -16.11,109.04 -14.70,110.39 C-13.29,111.75 -12.67,114.28 -12.38,116.53 C-12.08,118.78 -12.23,121.82 -12.92,123.88 C-13.62,125.93 -14.62,128.02 -16.55,128.83 C-18.48,129.64 -22.27,129.46 -24.51,128.74 C-26.74,128.01 -28.91,126.01 -29.94,124.48 C-30.98,122.94 -30.73,121.26 -30.71,119.55 C-30.69,117.83 -30.58,115.88 -29.84,114.16Z" fill="#d4a2c6" stroke="#150a10" stroke-width="2.5"/><path d="M9.63,115.41 C10.32,113.31 12.81,110.98 14.43,109.98 C16.04,108.98 17.72,108.98 19.32,109.40 C20.92,109.82 22.52,111.00 24.01,112.51 C25.51,114.01 27.77,116.54 28.30,118.43 C28.83,120.33 28.48,122.28 27.18,123.87 C25.87,125.47 22.60,127.32 20.47,128.02 C18.34,128.73 16.09,129.01 14.40,128.11 C12.70,127.20 11.08,124.71 10.29,122.59 C9.49,120.48 8.94,117.51 9.63,115.41Z" fill="#d4a2c6" stroke="#150a10" stroke-width="2.5"/></g>
<g transform="translate(1636.10,142.60)"><path d="M0.00,-0.50 C0.74,-0.47 2.85,0.76 3.70,1.50 C4.55,2.24 7.61,5.68 8.50,6.90 C9.39,8.12 11.92,12.34 12.60,13.70 C13.28,15.06 14.86,19.17 15.30,20.50 C15.74,21.83 16.46,26.22 17.00,27.00 C17.54,27.78 19.92,27.79 20.70,28.30 C21.48,28.81 24.19,31.11 24.80,32.10 C25.41,33.09 26.46,37.05 26.80,38.20 C27.14,39.35 27.96,42.38 28.20,43.60 C28.44,44.82 29.34,49.18 29.20,50.40 C29.06,51.62 27.17,54.64 26.80,55.80 C26.43,56.96 25.63,60.57 25.50,62.00 C25.37,63.43 25.47,68.40 25.50,70.10 C25.53,71.80 25.67,77.37 25.80,79.00 C25.93,80.63 26.49,84.84 26.80,86.40 C27.11,87.96 28.49,92.83 28.90,94.60 C29.31,96.37 30.53,102.06 30.90,104.10 C31.27,106.14 32.33,112.76 32.60,115.00 C32.87,117.24 33.57,124.32 33.60,126.50 C33.63,128.68 33.24,135.09 32.90,136.80 C32.56,138.51 31.01,142.24 30.20,143.60 C29.39,144.96 25.82,149.45 24.80,150.40 C23.78,151.35 20.51,152.42 20.00,153.10 C19.49,153.78 19.42,156.25 19.70,157.20 C19.98,158.15 22.09,161.31 22.80,162.60 C23.51,163.89 26.40,169.01 26.80,170.10 C27.20,171.19 27.00,173.03 26.80,173.50 C26.60,173.97 25.34,174.46 24.80,174.80 C24.26,175.14 22.01,176.97 21.40,176.90 C20.79,176.83 19.04,174.72 18.70,174.10 C18.36,173.48 18.34,171.65 18.00,170.70 C17.66,169.75 15.84,165.75 15.30,164.60 C14.76,163.45 13.08,160.28 12.60,159.20 C12.12,158.12 11.45,153.87 10.50,153.80 C9.55,153.73 3.91,157.14 3.10,158.50 C2.29,159.86 2.44,165.50 2.40,167.40 C2.36,169.30 2.84,175.26 2.70,177.50 C2.56,179.74 1.64,187.83 1.00,189.80 C0.36,191.77 -2.62,196.18 -3.70,197.20 C-4.78,198.22 -8.37,199.76 -9.80,200.00 C-11.23,200.24 -16.30,199.81 -18.00,199.60 C-19.70,199.39 -25.65,198.34 -26.80,197.90 C-27.95,197.46 -29.84,195.47 -29.50,195.20 C-29.16,194.93 -24.89,195.10 -23.40,195.20 C-21.91,195.30 -16.23,196.27 -14.60,196.20 C-12.97,196.13 -8.22,195.35 -7.10,194.50 C-5.98,193.65 -3.91,189.40 -3.40,187.70 C-2.89,186.00 -2.07,179.53 -2.00,177.50 C-1.93,175.47 -2.53,169.37 -2.70,167.40 C-2.87,165.43 -2.95,159.20 -3.70,157.80 C-4.45,156.40 -9.52,153.46 -10.20,153.40 C-10.88,153.34 -10.13,156.28 -10.50,157.20 C-10.87,158.12 -13.25,161.52 -13.90,162.60 C-14.55,163.68 -16.56,166.91 -17.00,168.00 C-17.44,169.09 -18.00,172.89 -18.30,173.50 C-18.60,174.11 -19.59,173.76 -20.00,174.10 C-20.41,174.44 -21.92,176.76 -22.40,176.90 C-22.88,177.04 -24.26,175.84 -24.80,175.50 C-25.34,175.16 -27.50,174.11 -27.80,173.50 C-28.10,172.89 -28.10,170.49 -27.80,169.40 C-27.50,168.31 -25.51,163.96 -24.80,162.60 C-24.09,161.24 -20.97,156.85 -20.70,155.80 C-20.43,154.75 -21.49,152.78 -22.10,152.10 C-22.71,151.42 -25.92,149.85 -26.80,149.00 C-27.68,148.15 -30.19,144.82 -30.90,143.60 C-31.61,142.38 -33.59,138.51 -33.90,136.80 C-34.21,135.09 -34.03,128.55 -34.00,126.50 C-33.97,124.45 -33.77,118.34 -33.60,116.30 C-33.43,114.26 -32.64,108.13 -32.30,106.10 C-31.96,104.07 -30.65,97.97 -30.20,96.00 C-29.75,94.03 -28.14,88.10 -27.80,86.40 C-27.46,84.70 -26.97,80.63 -26.80,79.00 C-26.63,77.37 -26.06,71.80 -26.10,70.10 C-26.14,68.40 -27.03,63.29 -27.20,62.00 C-27.37,60.71 -27.46,58.22 -27.80,57.20 C-28.14,56.18 -30.36,52.89 -30.60,51.80 C-30.84,50.71 -30.44,47.66 -30.20,46.30 C-29.96,44.94 -28.54,39.56 -28.20,38.20 C-27.86,36.84 -27.28,33.65 -26.80,32.70 C-26.32,31.75 -24.28,29.10 -23.40,28.70 C-22.52,28.30 -18.64,29.11 -18.00,28.70 C-17.36,28.29 -17.34,25.69 -17.00,24.60 C-16.66,23.51 -15.11,19.09 -14.60,17.80 C-14.09,16.51 -12.51,12.85 -11.90,11.70 C-11.29,10.55 -9.32,7.35 -8.50,6.30 C-7.68,5.25 -4.55,1.88 -3.70,1.20 C-2.85,0.52 -0.74,-0.53 0.00,-0.50Z" fill="#80c45c" stroke="#111" stroke-width="1.6" stroke-linejoin="round"/><path d="M-13.20,26.60 C-12.83,26.08 -11.78,24.28 -11.00,23.50 C-10.22,22.72 -8.92,22.17 -8.50,21.90" fill="none" stroke="#111" stroke-width="1.1" stroke-linecap="round"/><path d="M7.10,21.20 C7.58,21.58 9.08,22.48 10.00,23.50 C10.92,24.52 12.17,26.67 12.60,27.30" fill="none" stroke="#111" stroke-width="1.1" stroke-linecap="round"/><path d="M-18.00,36.10 C-17.67,37.35 -16.00,40.88 -16.00,43.60 C-16.00,46.32 -17.67,50.93 -18.00,52.40" fill="none" stroke="#111" stroke-width="1.1" stroke-linecap="round"/><path d="M-12.20,46.30 C-12.42,47.25 -12.93,50.18 -13.50,52.00 C-14.07,53.82 -15.25,56.33 -15.60,57.20" fill="none" stroke="#111" stroke-width="1.1" stroke-linecap="round"/><path d="M17.30,36.10 C16.97,37.35 15.30,40.77 15.30,43.60 C15.30,46.43 16.97,51.52 17.30,53.10" fill="none" stroke="#111" stroke-width="1.1" stroke-linecap="round"/><path d="M12.20,46.30 C12.42,47.25 12.98,50.18 13.50,52.00 C14.02,53.82 15.00,56.33 15.30,57.20" fill="none" stroke="#111" stroke-width="1.1" stroke-linecap="round"/><path d="M-18.00,28.70 C-18.67,29.42 -20.47,31.30 -22.00,33.00 C-23.53,34.70 -26.33,37.92 -27.20,38.90" fill="none" stroke="#111" stroke-width="1.1" stroke-linecap="round"/><path d="M17.00,28.70 C17.67,29.42 19.47,31.30 21.00,33.00 C22.53,34.70 25.33,37.92 26.20,38.90" fill="none" stroke="#111" stroke-width="1.1" stroke-linecap="round"/></g>
<text x="417.39" y="375.80" font-size="34" textLength="79.55" lengthAdjust="spacingAndGlyphs" fill="#000">NSG</text>
<text x="546.15" y="286.70" font-size="34" textLength="66.99" lengthAdjust="spacingAndGlyphs" fill="#000">GCV</text>
<text x="785.31" y="232.80" font-size="35.5" textLength="51.03" lengthAdjust="spacingAndGlyphs" fill="#000">BLI</text>
<text x="1618.20" y="384.80" font-size="33.5" textLength="44.70" lengthAdjust="spacingAndGlyphs" fill="#000">B6</text>
<text x="1724.83" y="232.20" font-size="34" textLength="54.42" lengthAdjust="spacingAndGlyphs" fill="#000">BLI</text>
<rect x="471.3" y="783.8" width="157.9" height="278.5" fill="#f8e2de"/>
<text x="512.49" y="827.40" font-size="35.5" textLength="86.69" lengthAdjust="spacingAndGlyphs" fill="#000">GCV</text>
<line x1="173" y1="997.9" x2="1075" y2="997.9" stroke="#000" stroke-width="2" stroke-dasharray="14 11.5"/>
<path d="M246.70,878.30 L288.05,868.30 L329.40,868.90 L387.29,846.00 L445.18,849.80 L494.80,852.90 L552.69,844.50 L618.85,879.60 L676.74,886.40 L734.63,885.20 L792.52,887.50 L850.41,886.70 L900.03,888.00 L957.92,888.00 L1015.81,884.40 L1073.70,891.80" fill="none" stroke="#000" stroke-width="3" stroke-linejoin="round"/>
<circle cx="246.70" cy="878.30" r="3.1" fill="#000"/>
<circle cx="288.05" cy="868.30" r="3.1" fill="#000"/>
<circle cx="329.40" cy="868.90" r="3.1" fill="#000"/>
<circle cx="387.29" cy="846.00" r="3.1" fill="#000"/>
<circle cx="445.18" cy="849.80" r="3.1" fill="#000"/>
<circle cx="494.80" cy="852.90" r="3.1" fill="#000"/>
<circle cx="552.69" cy="844.50" r="3.1" fill="#000"/>
<circle cx="618.85" cy="879.60" r="3.1" fill="#000"/>
<circle cx="676.74" cy="886.40" r="3.1" fill="#000"/>
<circle cx="734.63" cy="885.20" r="3.1" fill="#000"/>
<circle cx="792.52" cy="887.50" r="3.1" fill="#000"/>
<circle cx="850.41" cy="886.70" r="3.1" fill="#000"/>
<circle cx="900.03" cy="888.00" r="3.1" fill="#000"/>
<circle cx="957.92" cy="888.00" r="3.1" fill="#000"/>
<circle cx="1015.81" cy="884.40" r="3.1" fill="#000"/>
<circle cx="1073.70" cy="891.80" r="3.1" fill="#000"/>
<path d="M172.27,976.60 L188.81,1019.40 L246.70,889.00 L288.05,868.30 L329.40,881.10 L387.29,887.20 L445.18,840.60 L494.80,842.60 L552.69,982.80 L618.85,922.40 L676.74,917.30 L734.63,927.50 L792.52,939.50 L850.41,973.00 L900.03,934.90 L957.92,996.70 L1015.81,939.40 L1073.70,921.90" fill="none" stroke="#000" stroke-width="3" stroke-linejoin="round"/>
<circle cx="172.27" cy="976.60" r="3.1" fill="#000"/>
<circle cx="188.81" cy="1019.40" r="3.1" fill="#000"/>
<circle cx="246.70" cy="889.00" r="3.1" fill="#000"/>
<circle cx="288.05" cy="868.30" r="3.1" fill="#000"/>
<circle cx="329.40" cy="881.10" r="3.1" fill="#000"/>
<circle cx="387.29" cy="887.20" r="3.1" fill="#000"/>
<circle cx="445.18" cy="840.60" r="3.1" fill="#000"/>
<circle cx="494.80" cy="842.60" r="3.1" fill="#000"/>
<circle cx="552.69" cy="982.80" r="3.1" fill="#000"/>
<circle cx="618.85" cy="922.40" r="3.1" fill="#000"/>
<circle cx="676.74" cy="917.30" r="3.1" fill="#000"/>
<circle cx="734.63" cy="927.50" r="3.1" fill="#000"/>
<circle cx="792.52" cy="939.50" r="3.1" fill="#000"/>
<circle cx="850.41" cy="973.00" r="3.1" fill="#000"/>
<circle cx="900.03" cy="934.90" r="3.1" fill="#000"/>
<circle cx="957.92" cy="996.70" r="3.1" fill="#000"/>
<circle cx="1015.81" cy="939.40" r="3.1" fill="#000"/>
<circle cx="1073.70" cy="921.90" r="3.1" fill="#000"/>
<path d="M172.27,882.50 L246.70,889.40 L288.05,903.00 L329.40,878.60 L387.29,869.90 L445.18,846.50 L494.80,859.70 L552.69,880.40 L618.85,891.50 L676.74,904.30 L734.63,885.20 L792.52,900.00 L850.41,971.60 L900.03,909.60 L957.92,912.20 L1015.81,896.70 L1073.70,884.90" fill="none" stroke="#000" stroke-width="3" stroke-linejoin="round"/>
<circle cx="172.27" cy="882.50" r="3.1" fill="#000"/>
<circle cx="246.70" cy="889.40" r="3.1" fill="#000"/>
<circle cx="288.05" cy="903.00" r="3.1" fill="#000"/>
<circle cx="329.40" cy="878.60" r="3.1" fill="#000"/>
<circle cx="387.29" cy="869.90" r="3.1" fill="#000"/>
<circle cx="445.18" cy="846.50" r="3.1" fill="#000"/>
<circle cx="494.80" cy="859.70" r="3.1" fill="#000"/>
<circle cx="552.69" cy="880.40" r="3.1" fill="#000"/>
<circle cx="618.85" cy="891.50" r="3.1" fill="#000"/>
<circle cx="676.74" cy="904.30" r="3.1" fill="#000"/>
<circle cx="734.63" cy="885.20" r="3.1" fill="#000"/>
<circle cx="792.52" cy="900.00" r="3.1" fill="#000"/>
<circle cx="850.41" cy="971.60" r="3.1" fill="#000"/>
<circle cx="900.03" cy="909.60" r="3.1" fill="#000"/>
<circle cx="957.92" cy="912.20" r="3.1" fill="#000"/>
<circle cx="1015.81" cy="896.70" r="3.1" fill="#000"/>
<circle cx="1073.70" cy="884.90" r="3.1" fill="#000"/>
<path d="M172.27,879.00 L188.81,900.40 L246.70,896.60 L288.05,896.00 L329.40,895.40 L387.29,887.20 L445.18,861.30 L494.80,865.90 L552.69,886.50 L618.85,905.30 L676.74,905.80 L734.63,903.60 L792.52,900.00 L850.41,912.70 L900.03,909.60 L957.92,901.60 L1015.81,900.00 L1073.70,896.20" fill="none" stroke="#000" stroke-width="3" stroke-linejoin="round"/>
<circle cx="172.27" cy="879.00" r="3.1" fill="#000"/>
<circle cx="188.81" cy="900.40" r="3.1" fill="#000"/>
<circle cx="246.70" cy="896.60" r="3.1" fill="#000"/>
<circle cx="288.05" cy="896.00" r="3.1" fill="#000"/>
<circle cx="329.40" cy="895.40" r="3.1" fill="#000"/>
<circle cx="387.29" cy="887.20" r="3.1" fill="#000"/>
<circle cx="445.18" cy="861.30" r="3.1" fill="#000"/>
<circle cx="494.80" cy="865.90" r="3.1" fill="#000"/>
<circle cx="552.69" cy="886.50" r="3.1" fill="#000"/>
<circle cx="618.85" cy="905.30" r="3.1" fill="#000"/>
<circle cx="676.74" cy="905.80" r="3.1" fill="#000"/>
<circle cx="734.63" cy="903.60" r="3.1" fill="#000"/>
<circle cx="792.52" cy="900.00" r="3.1" fill="#000"/>
<circle cx="850.41" cy="912.70" r="3.1" fill="#000"/>
<circle cx="900.03" cy="909.60" r="3.1" fill="#000"/>
<circle cx="957.92" cy="901.60" r="3.1" fill="#000"/>
<circle cx="1015.81" cy="900.00" r="3.1" fill="#000"/>
<circle cx="1073.70" cy="896.20" r="3.1" fill="#000"/>
<path d="M172.27,919.90 L188.81,911.50 L246.70,883.60 L288.05,913.80 L329.40,915.80 L387.29,915.80 L445.18,891.10 L494.80,873.20 L552.69,886.50 L618.85,924.00 L676.74,960.10 L734.63,910.40 L792.52,943.30 L850.41,981.40 L900.03,941.00 L957.92,1031.90 L1015.81,939.40 L1073.70,943.70" fill="none" stroke="#000" stroke-width="3" stroke-linejoin="round"/>
<circle cx="172.27" cy="919.90" r="3.1" fill="#000"/>
<circle cx="188.81" cy="911.50" r="3.1" fill="#000"/>
<circle cx="246.70" cy="883.60" r="3.1" fill="#000"/>
<circle cx="288.05" cy="913.80" r="3.1" fill="#000"/>
<circle cx="329.40" cy="915.80" r="3.1" fill="#000"/>
<circle cx="387.29" cy="915.80" r="3.1" fill="#000"/>
<circle cx="445.18" cy="891.10" r="3.1" fill="#000"/>
<circle cx="494.80" cy="873.20" r="3.1" fill="#000"/>
<circle cx="552.69" cy="886.50" r="3.1" fill="#000"/>
<circle cx="618.85" cy="924.00" r="3.1" fill="#000"/>
<circle cx="676.74" cy="960.10" r="3.1" fill="#000"/>
<circle cx="734.63" cy="910.40" r="3.1" fill="#000"/>
<circle cx="792.52" cy="943.30" r="3.1" fill="#000"/>
<circle cx="850.41" cy="981.40" r="3.1" fill="#000"/>
<circle cx="900.03" cy="941.00" r="3.1" fill="#000"/>
<circle cx="957.92" cy="1031.90" r="3.1" fill="#000"/>
<circle cx="1015.81" cy="939.40" r="3.1" fill="#000"/>
<circle cx="1073.70" cy="943.70" r="3.1" fill="#000"/>
<path d="M164.0,794.4 V1062.3 M150.6,1062.3 H1074.90" fill="none" stroke="#000" stroke-width="2.8"/>
<line x1="150.6" y1="794.60" x2="164.0" y2="794.60" stroke="#000" stroke-width="2.8"/>
<line x1="150.6" y1="848.10" x2="164.0" y2="848.10" stroke="#000" stroke-width="2.8"/>
<line x1="150.6" y1="901.60" x2="164.0" y2="901.60" stroke="#000" stroke-width="2.8"/>
<line x1="150.6" y1="955.10" x2="164.0" y2="955.10" stroke="#000" stroke-width="2.8"/>
<line x1="150.6" y1="1008.60" x2="164.0" y2="1008.60" stroke="#000" stroke-width="2.8"/>
<line x1="150.6" y1="1062.10" x2="164.0" y2="1062.10" stroke="#000" stroke-width="2.8"/>
<line x1="164.00" y1="1062.3" x2="164.00" y2="1076" stroke="#000" stroke-width="2.8"/>
<text x="154.77" y="1114.60" font-size="35.7" textLength="18.86" lengthAdjust="spacingAndGlyphs" fill="#000">0</text>
<line x1="246.70" y1="1062.3" x2="246.70" y2="1076" stroke="#000" stroke-width="2.8"/>
<text x="227.41" y="1114.60" font-size="35.7" textLength="37.72" lengthAdjust="spacingAndGlyphs" fill="#000">10</text>
<line x1="329.40" y1="1062.3" x2="329.40" y2="1076" stroke="#000" stroke-width="2.8"/>
<text x="310.55" y="1114.60" font-size="35.7" textLength="37.72" lengthAdjust="spacingAndGlyphs" fill="#000">20</text>
<line x1="412.10" y1="1062.3" x2="412.10" y2="1076" stroke="#000" stroke-width="2.8"/>
<text x="393.45" y="1114.60" font-size="35.7" textLength="37.72" lengthAdjust="spacingAndGlyphs" fill="#000">30</text>
<line x1="494.80" y1="1062.3" x2="494.80" y2="1076" stroke="#000" stroke-width="2.8"/>
<text x="476.41" y="1114.60" font-size="35.7" textLength="37.72" lengthAdjust="spacingAndGlyphs" fill="#000">40</text>
<line x1="577.50" y1="1062.3" x2="577.50" y2="1076" stroke="#000" stroke-width="2.8"/>
<text x="558.82" y="1114.60" font-size="35.7" textLength="37.72" lengthAdjust="spacingAndGlyphs" fill="#000">50</text>
<line x1="660.20" y1="1062.3" x2="660.20" y2="1076" stroke="#000" stroke-width="2.8"/>
<text x="641.34" y="1114.60" font-size="35.7" textLength="37.72" lengthAdjust="spacingAndGlyphs" fill="#000">60</text>
<line x1="742.90" y1="1062.3" x2="742.90" y2="1076" stroke="#000" stroke-width="2.8"/>
<text x="724.03" y="1114.60" font-size="35.7" textLength="37.72" lengthAdjust="spacingAndGlyphs" fill="#000">70</text>
<line x1="825.60" y1="1062.3" x2="825.60" y2="1076" stroke="#000" stroke-width="2.8"/>
<text x="806.86" y="1114.60" font-size="35.7" textLength="37.72" lengthAdjust="spacingAndGlyphs" fill="#000">80</text>
<line x1="908.30" y1="1062.3" x2="908.30" y2="1076" stroke="#000" stroke-width="2.8"/>
<text x="889.51" y="1114.60" font-size="35.7" textLength="37.72" lengthAdjust="spacingAndGlyphs" fill="#000">90</text>
<line x1="991.00" y1="1062.3" x2="991.00" y2="1076" stroke="#000" stroke-width="2.8"/>
<text x="962.28" y="1114.60" font-size="35.7" textLength="56.59" lengthAdjust="spacingAndGlyphs" fill="#000">100</text>
<line x1="1073.70" y1="1062.3" x2="1073.70" y2="1076" stroke="#000" stroke-width="2.8"/>
<text x="1044.98" y="1114.60" font-size="35.7" textLength="56.59" lengthAdjust="spacingAndGlyphs" fill="#000">110</text>
<text x="81.95" y="808.60" font-size="35" textLength="35.81" lengthAdjust="spacingAndGlyphs" fill="#000">10</text>
<text x="125.27" y="798.60" font-size="30.5" font-weight="bold" textLength="15.78" lengthAdjust="spacingAndGlyphs" fill="#000">4</text>
<text x="81.95" y="862.10" font-size="35" textLength="35.81" lengthAdjust="spacingAndGlyphs" fill="#000">10</text>
<text x="125.05" y="852.10" font-size="30.5" font-weight="bold" textLength="15.78" lengthAdjust="spacingAndGlyphs" fill="#000">3</text>
<text x="81.95" y="915.60" font-size="35" textLength="35.81" lengthAdjust="spacingAndGlyphs" fill="#000">10</text>
<text x="124.72" y="905.60" font-size="30.5" font-weight="bold" textLength="15.78" lengthAdjust="spacingAndGlyphs" fill="#000">2</text>
<text x="81.95" y="969.10" font-size="35" textLength="35.81" lengthAdjust="spacingAndGlyphs" fill="#000">10</text>
<text x="123.91" y="959.10" font-size="30.5" font-weight="bold" textLength="15.78" lengthAdjust="spacingAndGlyphs" fill="#000">1</text>
<text x="81.95" y="1022.60" font-size="35" textLength="35.81" lengthAdjust="spacingAndGlyphs" fill="#000">10</text>
<text x="124.58" y="1012.60" font-size="30.5" font-weight="bold" textLength="15.78" lengthAdjust="spacingAndGlyphs" fill="#000">0</text>
<text x="74.27" y="1075.00" font-size="35" textLength="36.93" lengthAdjust="spacingAndGlyphs" fill="#000">10</text>
<text x="118.08" y="1061.00" font-size="30.5" font-weight="bold" textLength="23.14" lengthAdjust="spacingAndGlyphs" fill="#000">-1</text>
<text x="593.89" y="1161.00" font-size="34.5" textLength="61.99" lengthAdjust="spacingAndGlyphs" fill="#000">day</text>
<g transform="translate(26.00,1078.00) rotate(-90)"><text x="-2.58" y="0" font-size="34" textLength="37.62" lengthAdjust="spacingAndGlyphs">10</text><text x="35.04" y="-12" font-size="21" textLength="11.62" lengthAdjust="spacingAndGlyphs">7</text><text x="46.66" y="0" font-size="34" textLength="250.04" lengthAdjust="spacingAndGlyphs"> photons per sec</text></g>
<text transform="translate(64.50,1061.00) rotate(-90)" x="-2.12" y="0" font-size="34" textLength="264.04" lengthAdjust="spacingAndGlyphs">(average / tissue)</text>
<line x1="1359" y1="1015.4" x2="2140" y2="1015.4" stroke="#000" stroke-width="2" stroke-dasharray="14 11.5"/>
<path d="M1387.70,838.10 L1417.03,899.50 L1446.36,919.70 L1622.34,1016.20" fill="none" stroke="#000" stroke-width="3" stroke-linejoin="round"/>
<circle cx="1387.70" cy="838.10" r="3.1" fill="#000"/>
<circle cx="1417.03" cy="899.50" r="3.1" fill="#000"/>
<circle cx="1446.36" cy="919.70" r="3.1" fill="#000"/>
<circle cx="1622.34" cy="1016.20" r="3.1" fill="#000"/>
<path d="M1387.70,845.20 L1417.03,917.20 L1446.36,954.50 L1622.34,1056.30" fill="none" stroke="#000" stroke-width="3" stroke-linejoin="round"/>
<circle cx="1387.70" cy="845.20" r="3.1" fill="#000"/>
<circle cx="1417.03" cy="917.20" r="3.1" fill="#000"/>
<circle cx="1446.36" cy="954.50" r="3.1" fill="#000"/>
<circle cx="1622.34" cy="1056.30" r="3.1" fill="#000"/>
<path d="M1387.70,854.00 L1417.03,1012.70" fill="none" stroke="#000" stroke-width="3" stroke-linejoin="round"/>
<circle cx="1387.70" cy="854.00" r="3.1" fill="#000"/>
<circle cx="1417.03" cy="1012.70" r="3.1" fill="#000"/>
<path d="M1387.70,887.00 L1417.03,986.40 L1446.36,1052.00" fill="none" stroke="#000" stroke-width="3" stroke-linejoin="round"/>
<circle cx="1387.70" cy="887.00" r="3.1" fill="#000"/>
<circle cx="1417.03" cy="986.40" r="3.1" fill="#000"/>
<circle cx="1446.36" cy="1052.00" r="3.1" fill="#000"/>
<path d="M1359,794.8 V1062 M1345.3,1062 L2138,1058.3" fill="none" stroke="#000" stroke-width="2.8"/>
<line x1="1345.3" y1="795.00" x2="1359" y2="795.00" stroke="#000" stroke-width="2.8"/>
<line x1="1345.3" y1="848.40" x2="1359" y2="848.40" stroke="#000" stroke-width="2.8"/>
<line x1="1345.3" y1="901.80" x2="1359" y2="901.80" stroke="#000" stroke-width="2.8"/>
<line x1="1345.3" y1="955.20" x2="1359" y2="955.20" stroke="#000" stroke-width="2.8"/>
<line x1="1345.3" y1="1008.60" x2="1359" y2="1008.60" stroke="#000" stroke-width="2.8"/>
<line x1="1345.3" y1="1062.00" x2="1359" y2="1062.00" stroke="#000" stroke-width="2.8"/>
<line x1="1387.70" y1="1061.80" x2="1387.70" y2="1075.30" stroke="#000" stroke-width="2.8"/>
<text x="1378.47" y="1114.60" font-size="35.7" textLength="18.86" lengthAdjust="spacingAndGlyphs" fill="#000">0</text>
<line x1="1534.35" y1="1061.12" x2="1534.35" y2="1074.62" stroke="#000" stroke-width="2.8"/>
<text x="1525.15" y="1114.60" font-size="35.7" textLength="18.86" lengthAdjust="spacingAndGlyphs" fill="#000">5</text>
<line x1="1681.00" y1="1060.43" x2="1681.00" y2="1073.93" stroke="#000" stroke-width="2.8"/>
<text x="1661.71" y="1114.60" font-size="35.7" textLength="37.72" lengthAdjust="spacingAndGlyphs" fill="#000">10</text>
<line x1="1827.65" y1="1059.75" x2="1827.65" y2="1073.25" stroke="#000" stroke-width="2.8"/>
<text x="1808.41" y="1114.60" font-size="35.7" textLength="37.72" lengthAdjust="spacingAndGlyphs" fill="#000">15</text>
<line x1="1974.30" y1="1059.06" x2="1974.30" y2="1072.56" stroke="#000" stroke-width="2.8"/>
<text x="1955.45" y="1114.60" font-size="35.7" textLength="37.72" lengthAdjust="spacingAndGlyphs" fill="#000">20</text>
<line x1="2120.95" y1="1058.38" x2="2120.95" y2="1071.88" stroke="#000" stroke-width="2.8"/>
<text x="2102.15" y="1114.60" font-size="35.7" textLength="37.72" lengthAdjust="spacingAndGlyphs" fill="#000">25</text>
<text x="1280.13" y="808.60" font-size="35.5" textLength="37.48" lengthAdjust="spacingAndGlyphs" fill="#000">10</text>
<text x="1322.84" y="798.30" font-size="30" textLength="17.98" lengthAdjust="spacingAndGlyphs" fill="#000">7</text>
<text x="1280.13" y="862.00" font-size="35.5" textLength="37.48" lengthAdjust="spacingAndGlyphs" fill="#000">10</text>
<text x="1322.88" y="851.70" font-size="30" textLength="17.72" lengthAdjust="spacingAndGlyphs" fill="#000">6</text>
<text x="1280.13" y="915.40" font-size="35.5" textLength="37.48" lengthAdjust="spacingAndGlyphs" fill="#000">10</text>
<text x="1323.26" y="905.10" font-size="30" textLength="17.24" lengthAdjust="spacingAndGlyphs" fill="#000">5</text>
<text x="1280.13" y="968.80" font-size="35.5" textLength="37.48" lengthAdjust="spacingAndGlyphs" fill="#000">10</text>
<text x="1323.83" y="958.50" font-size="30" textLength="16.22" lengthAdjust="spacingAndGlyphs" fill="#000">4</text>
<text x="1280.77" y="1021.90" font-size="35.5" textLength="35.48" lengthAdjust="spacingAndGlyphs" fill="#000">10</text>
<text x="1323.85" y="1011.60" font-size="30" textLength="16.77" lengthAdjust="spacingAndGlyphs" fill="#000">3</text>
<text x="1284.96" y="1071.20" font-size="35.5" textLength="34.14" lengthAdjust="spacingAndGlyphs" fill="#000">10</text>
<text x="1323.48" y="1061.00" font-size="30" textLength="16.85" lengthAdjust="spacingAndGlyphs" fill="#000">2</text>
<text x="1655.57" y="1049.20" font-size="32" textLength="272.59" lengthAdjust="spacingAndGlyphs" fill="#000">no signal detected</text>
<text x="1792.09" y="1161.00" font-size="34.5" textLength="61.99" lengthAdjust="spacingAndGlyphs" fill="#000">day</text>
<g transform="translate(1233.00,1078.00) rotate(-90)"><text x="-2.58" y="0" font-size="34" textLength="37.70" lengthAdjust="spacingAndGlyphs">10</text><text x="35.12" y="-12" font-size="21" textLength="11.64" lengthAdjust="spacingAndGlyphs">7</text><text x="46.77" y="0" font-size="34" textLength="250.63" lengthAdjust="spacingAndGlyphs"> photons per sec</text></g>
<text transform="translate(1271.00,1061.00) rotate(-90)" x="-2.12" y="0" font-size="34" textLength="263.94" lengthAdjust="spacingAndGlyphs">(average / tissue)</text>
</svg>
</body></html>
